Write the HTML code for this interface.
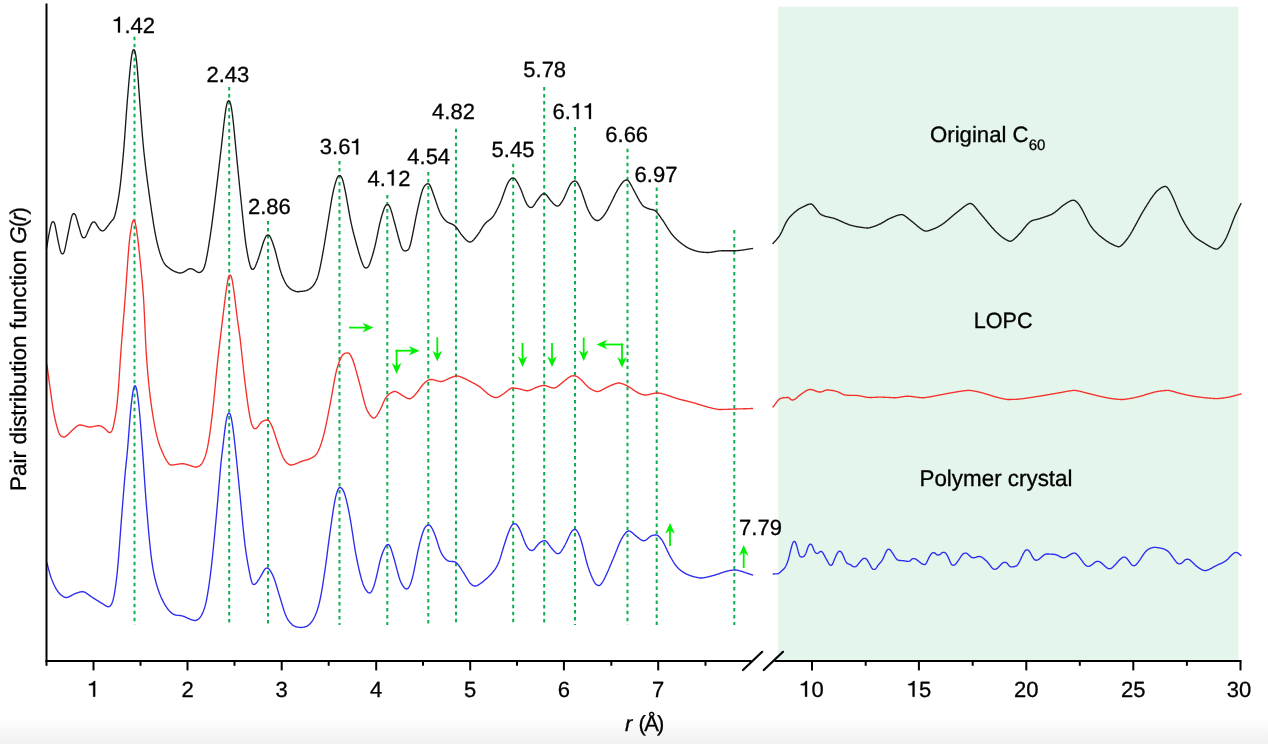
<!DOCTYPE html><html><head><meta charset="utf-8"><style>html,body{margin:0;padding:0;background:#fff}body{width:1268px;height:744px;position:relative;overflow:hidden;font-family:"Liberation Sans",sans-serif}</style></head><body><svg width="1268" height="744" viewBox="0 0 1268 744" style="position:absolute;left:0;top:0;font-family:'Liberation Sans',sans-serif;will-change:transform">
<defs><linearGradient id="bg" x1="0" y1="0" x2="0" y2="1"><stop offset="0" stop-color="#ffffff"/><stop offset="1" stop-color="#f1f1f1"/></linearGradient></defs>
<rect x="0" y="717" width="1268" height="27" fill="url(#bg)"/>
<rect x="778.2" y="6.7" width="460.2" height="653.1" fill="#e4f6ec"/>
<g stroke="#10ad50" stroke-width="2.00" stroke-dasharray="3.6 3.4" fill="none">
<line x1="134.5" y1="36.7" x2="134.5" y2="625.0"/>
<line x1="229.2" y1="87.0" x2="229.2" y2="625.0"/>
<line x1="268.0" y1="221.0" x2="268.0" y2="625.0"/>
<line x1="339.5" y1="161.0" x2="339.5" y2="625.0"/>
<line x1="387.3" y1="195.0" x2="387.3" y2="625.0"/>
<line x1="428.3" y1="172.0" x2="428.3" y2="625.0"/>
<line x1="456.0" y1="128.7" x2="456.0" y2="625.0"/>
<line x1="513.2" y1="163.7" x2="513.2" y2="625.0"/>
<line x1="544.2" y1="87.0" x2="544.2" y2="625.0"/>
<line x1="575.0" y1="127.0" x2="575.0" y2="625.0"/>
<line x1="627.5" y1="148.7" x2="627.5" y2="625.0"/>
<line x1="656.7" y1="187.5" x2="656.7" y2="625.0"/>
<line x1="734.3" y1="230.0" x2="734.3" y2="625.0"/>
</g>
<path d="M46.5 248.7L47.0 245.8L47.5 242.8L48.0 239.8L48.5 236.9L49.0 234.2L49.5 231.6L50.0 229.1L50.5 226.9L51.0 224.9L51.5 223.4L52.0 222.4L52.5 221.8L53.0 221.7L53.5 221.8L54.0 222.3L54.5 223.3L55.0 225.0L55.5 227.3L56.0 229.9L56.5 232.7L57.0 235.4L57.5 237.9L58.0 240.4L58.5 242.8L59.0 245.1L59.5 247.4L60.0 249.4L60.5 251.2L61.0 252.5L61.5 253.4L62.0 253.8L62.5 253.9L63.0 253.8L63.5 253.3L64.0 252.3L64.5 250.9L65.0 248.9L65.5 246.7L66.0 244.2L66.5 241.6L67.0 239.0L67.5 236.5L68.0 234.0L68.5 231.6L69.0 229.1L69.5 226.5L70.0 224.0L70.5 221.6L71.0 219.3L71.5 217.3L72.0 215.7L72.5 214.6L73.0 213.9L73.5 213.7L74.0 213.7L74.5 213.9L75.0 214.4L75.5 215.3L76.0 216.6L76.5 218.1L77.0 219.8L77.5 221.6L78.0 223.5L78.5 225.3L79.0 227.0L79.5 228.7L80.0 230.4L80.5 232.2L81.0 233.8L81.5 235.2L82.0 236.4L82.5 237.2L83.0 237.6L83.5 237.7L84.0 237.7L84.5 237.6L85.0 237.2L85.5 236.7L86.0 235.8L86.5 234.8L87.0 233.7L87.5 232.5L88.0 231.3L88.5 230.1L89.0 229.0L89.5 227.9L90.0 226.8L90.5 225.7L91.0 224.6L91.5 223.7L92.0 222.9L92.5 222.4L93.0 222.1L93.5 222.0L94.0 222.0L94.5 222.1L95.0 222.4L95.5 222.9L96.0 223.6L96.5 224.4L97.0 225.3L97.5 226.2L98.0 227.0L98.5 227.7L99.0 228.4L99.5 229.0L100.0 229.6L100.5 230.0L101.0 230.4L101.5 230.6L102.0 230.8L102.5 230.8L103.0 230.8L103.5 230.6L104.0 230.4L104.5 230.0L105.0 229.5L105.5 228.9L106.0 228.3L106.5 227.7L107.0 227.0L107.5 226.4L108.0 225.7L108.5 225.1L109.0 224.4L109.5 223.7L110.0 223.0L110.5 222.4L111.0 221.7L111.5 221.2L112.0 220.6L112.5 220.1L113.0 219.6L113.5 218.8L114.0 217.9L114.5 216.6L115.0 215.0L115.5 213.0L116.0 210.9L116.5 208.5L117.0 206.0L117.5 203.4L118.0 200.7L118.5 197.8L119.0 194.7L119.5 191.2L120.0 187.3L120.5 183.1L121.0 178.5L121.5 173.7L122.0 168.7L122.5 163.4L123.0 157.9L123.5 152.2L124.0 146.1L124.5 139.6L125.0 132.7L125.5 125.6L126.0 118.6L126.5 111.7L127.0 105.1L127.5 98.8L128.0 92.7L128.5 86.8L129.0 81.0L129.5 75.4L130.0 70.2L130.5 65.2L131.0 60.8L131.5 56.9L132.0 53.8L132.5 51.5L133.0 50.2L133.5 49.6L134.0 49.7L134.5 50.3L135.0 51.7L135.5 53.9L136.0 56.9L136.5 60.7L137.0 65.5L137.5 71.1L138.0 77.4L138.5 84.3L139.0 91.3L139.5 98.2L140.0 104.9L140.5 111.5L141.0 118.0L141.5 124.4L142.0 130.7L142.5 136.8L143.0 142.5L143.5 147.8L144.0 152.7L144.5 157.3L145.0 161.7L145.5 166.0L146.0 170.1L146.5 174.1L147.0 178.0L147.5 181.8L148.0 185.5L148.5 189.2L149.0 192.8L149.5 196.4L150.0 200.0L150.5 203.5L151.0 207.0L151.5 210.5L152.0 213.9L152.5 217.2L153.0 220.4L153.5 223.6L154.0 226.6L154.5 229.5L155.0 232.3L155.5 234.9L156.0 237.4L156.5 239.8L157.0 242.0L157.5 244.2L158.0 246.2L158.5 248.1L159.0 249.9L159.5 251.6L160.0 253.3L160.5 254.8L161.0 256.2L161.5 257.6L162.0 258.8L162.5 259.9L163.0 261.0L163.5 262.0L164.0 262.8L164.5 263.6L165.0 264.3L165.5 264.9L166.0 265.4L166.5 265.9L167.0 266.4L167.5 266.8L168.0 267.2L168.5 267.6L169.0 267.9L169.5 268.3L170.0 268.7L170.5 269.1L171.0 269.4L171.5 269.8L172.0 270.1L172.5 270.4L173.0 270.7L173.5 270.9L174.0 271.2L174.5 271.4L175.0 271.6L175.5 271.8L176.0 272.0L176.5 272.2L177.0 272.4L177.5 272.5L178.0 272.7L178.5 272.8L179.0 272.9L179.5 273.0L180.0 273.0L180.5 273.0L181.0 272.9L181.5 272.8L182.0 272.7L182.5 272.5L183.0 272.3L183.5 272.1L184.0 271.8L184.5 271.5L185.0 271.3L185.5 271.0L186.0 270.7L186.5 270.4L187.0 270.0L187.5 269.7L188.0 269.4L188.5 269.1L189.0 268.9L189.5 268.8L190.0 268.7L190.5 268.7L191.0 268.7L191.5 268.8L192.0 268.9L192.5 269.1L193.0 269.3L193.5 269.6L194.0 269.9L194.5 270.2L195.0 270.5L195.5 270.8L196.0 271.2L196.5 271.5L197.0 271.8L197.5 272.1L198.0 272.3L198.5 272.4L199.0 272.5L199.5 272.5L200.0 272.4L200.5 272.3L201.0 271.9L201.5 271.5L202.0 271.1L202.5 270.5L203.0 269.9L203.5 269.0L204.0 267.9L204.5 266.5L205.0 264.8L205.5 262.9L206.0 260.6L206.5 258.2L207.0 255.6L207.5 252.9L208.0 250.0L208.5 247.0L209.0 243.9L209.5 240.7L210.0 237.5L210.5 234.1L211.0 230.7L211.5 227.1L212.0 223.4L212.5 219.6L213.0 215.8L213.5 211.9L214.0 207.9L214.5 204.0L215.0 200.0L215.5 196.0L216.0 191.9L216.5 187.8L217.0 183.7L217.5 179.6L218.0 175.4L218.5 171.2L219.0 167.0L219.5 162.7L220.0 158.5L220.5 154.2L221.0 150.0L221.5 145.6L222.0 141.1L222.5 136.6L223.0 132.0L223.5 127.5L224.0 123.2L224.5 119.0L225.0 115.2L225.5 111.6L226.0 108.4L226.5 105.7L227.0 103.5L227.5 102.0L228.0 101.1L228.5 100.7L229.0 100.8L229.5 101.2L230.0 102.1L230.5 103.6L231.0 105.7L231.5 108.4L232.0 111.5L232.5 115.3L233.0 119.5L233.5 124.1L234.0 129.1L234.5 134.3L235.0 139.6L235.5 144.8L236.0 150.0L236.5 155.0L237.0 160.1L237.5 165.2L238.0 170.2L238.5 175.3L239.0 180.3L239.5 185.3L240.0 190.3L240.5 195.2L241.0 200.0L241.5 204.8L242.0 209.7L242.5 214.6L243.0 219.4L243.5 224.1L244.0 228.8L244.5 233.2L245.0 237.4L245.5 241.3L246.0 244.9L246.5 248.2L247.0 251.2L247.5 254.0L248.0 256.7L248.5 259.1L249.0 261.3L249.5 263.2L250.0 265.0L250.5 266.6L251.0 267.9L251.5 268.8L252.0 269.3L252.5 269.4L253.0 269.4L253.5 269.1L254.0 268.6L254.5 267.9L255.0 267.0L255.5 266.0L256.0 264.8L256.5 263.6L257.0 262.2L257.5 260.9L258.0 259.5L258.5 258.1L259.0 256.6L259.5 255.1L260.0 253.5L260.5 251.8L261.0 250.1L261.5 248.4L262.0 246.7L262.5 245.1L263.0 243.5L263.5 242.0L264.0 240.7L264.5 239.4L265.0 238.2L265.5 237.2L266.0 236.4L266.5 235.7L267.0 235.3L267.5 235.1L268.0 235.0L268.5 235.1L269.0 235.3L269.5 235.8L270.0 236.5L270.5 237.4L271.0 238.5L271.5 239.7L272.0 241.0L272.5 242.3L273.0 243.7L273.5 245.2L274.0 246.7L274.5 248.3L275.0 250.0L275.5 251.8L276.0 253.7L276.5 255.7L277.0 257.7L277.5 259.7L278.0 261.7L278.5 263.7L279.0 265.6L279.5 267.5L280.0 269.3L280.5 270.9L281.0 272.4L281.5 273.9L282.0 275.2L282.5 276.5L283.0 277.7L283.5 278.9L284.0 280.0L284.5 281.0L285.0 282.0L285.5 282.9L286.0 283.8L286.5 284.6L287.0 285.3L287.5 286.0L288.0 286.6L288.5 287.1L289.0 287.6L289.5 288.1L290.0 288.5L290.5 288.9L291.0 289.2L291.5 289.5L292.0 289.8L292.5 290.1L293.0 290.3L293.5 290.5L294.0 290.7L294.5 290.9L295.0 291.1L295.5 291.3L296.0 291.5L296.5 291.6L297.0 291.7L297.5 291.7L298.0 291.7L298.5 291.7L299.0 291.6L299.5 291.5L300.0 291.5L300.5 291.4L301.0 291.4L301.5 291.3L302.0 291.3L302.5 291.2L303.0 291.2L303.5 291.1L304.0 291.1L304.5 291.0L305.0 290.9L305.5 290.8L306.0 290.7L306.5 290.5L307.0 290.3L307.5 290.1L308.0 289.9L308.5 289.7L309.0 289.4L309.5 289.0L310.0 288.7L310.5 288.3L311.0 287.9L311.5 287.4L312.0 287.0L312.5 286.4L313.0 285.9L313.5 285.2L314.0 284.5L314.5 283.8L315.0 282.9L315.5 282.0L316.0 281.0L316.5 279.9L317.0 278.7L317.5 277.4L318.0 275.9L318.5 274.2L319.0 272.2L319.5 270.1L320.0 267.8L320.5 265.4L321.0 262.8L321.5 260.3L322.0 257.6L322.5 255.0L323.0 252.2L323.5 249.4L324.0 246.5L324.5 243.5L325.0 240.5L325.5 237.4L326.0 234.2L326.5 231.1L327.0 228.1L327.5 225.0L328.0 221.9L328.5 218.9L329.0 215.7L329.5 212.6L330.0 209.5L330.5 206.4L331.0 203.4L331.5 200.5L332.0 197.7L332.5 195.1L333.0 192.6L333.5 190.3L334.0 188.2L334.5 186.3L335.0 184.4L335.5 182.7L336.0 181.1L336.5 179.6L337.0 178.3L337.5 177.3L338.0 176.4L338.5 175.9L339.0 175.6L339.5 175.6L340.0 175.6L340.5 175.9L341.0 176.4L341.5 177.2L342.0 178.2L342.5 179.5L343.0 181.1L343.5 183.0L344.0 185.2L344.5 187.5L345.0 189.9L345.5 192.4L346.0 195.0L346.5 197.7L347.0 200.5L347.5 203.3L348.0 206.2L348.5 209.1L349.0 211.9L349.5 214.7L350.0 217.4L350.5 220.0L351.0 222.4L351.5 224.7L352.0 226.9L352.5 229.0L353.0 231.1L353.5 233.0L354.0 235.0L354.5 236.8L355.0 238.7L355.5 240.5L356.0 242.4L356.5 244.2L357.0 246.0L357.5 247.8L358.0 249.6L358.5 251.4L359.0 253.1L359.5 254.8L360.0 256.4L360.5 258.0L361.0 259.5L361.5 261.0L362.0 262.3L362.5 263.6L363.0 264.8L363.5 265.8L364.0 266.6L364.5 267.3L365.0 267.7L365.5 267.9L366.0 268.0L366.5 267.9L367.0 267.7L367.5 267.4L368.0 266.9L368.5 266.2L369.0 265.3L369.5 264.2L370.0 262.9L370.5 261.5L371.0 260.0L371.5 258.5L372.0 256.9L372.5 255.2L373.0 253.5L373.5 251.7L374.0 249.9L374.5 248.0L375.0 245.9L375.5 243.8L376.0 241.6L376.5 239.2L377.0 236.8L377.5 234.3L378.0 231.8L378.5 229.4L379.0 227.0L379.5 224.7L380.0 222.6L380.5 220.6L381.0 218.6L381.5 216.8L382.0 215.1L382.5 213.5L383.0 211.9L383.5 210.5L384.0 209.1L384.5 207.8L385.0 206.8L385.5 205.9L386.0 205.3L386.5 204.8L387.0 204.6L387.5 204.5L388.0 204.6L388.5 204.9L389.0 205.5L389.5 206.3L390.0 207.4L390.5 208.6L391.0 210.1L391.5 211.6L392.0 213.3L392.5 215.1L393.0 216.9L393.5 218.8L394.0 220.7L394.5 222.5L395.0 224.3L395.5 226.2L396.0 228.1L396.5 230.0L397.0 231.8L397.5 233.7L398.0 235.6L398.5 237.5L399.0 239.3L399.5 241.0L400.0 242.7L400.5 244.4L401.0 245.9L401.5 247.2L402.0 248.3L402.5 249.2L403.0 249.9L403.5 250.4L404.0 250.7L404.5 250.9L405.0 251.0L405.5 250.9L406.0 250.8L406.5 250.6L407.0 250.4L407.5 250.1L408.0 249.8L408.5 249.3L409.0 248.5L409.5 247.3L410.0 245.8L410.5 244.0L411.0 241.9L411.5 239.8L412.0 237.4L412.5 235.0L413.0 232.6L413.5 230.0L414.0 227.5L414.5 224.9L415.0 222.3L415.5 219.7L416.0 217.2L416.5 214.7L417.0 212.3L417.5 210.0L418.0 207.8L418.5 205.5L419.0 203.3L419.5 201.1L420.0 199.0L420.5 197.0L421.0 195.1L421.5 193.3L422.0 191.6L422.5 190.1L423.0 188.8L423.5 187.7L424.0 186.8L424.5 186.1L425.0 185.5L425.5 185.0L426.0 184.5L426.5 184.2L427.0 183.9L427.5 183.8L428.0 183.7L428.5 183.8L429.0 184.1L429.5 184.6L430.0 185.4L430.5 186.4L431.0 187.5L431.5 188.8L432.0 190.2L432.5 191.6L433.0 193.0L433.5 194.4L434.0 195.8L434.5 197.2L435.0 198.7L435.5 200.1L436.0 201.6L436.5 203.1L437.0 204.6L437.5 206.1L438.0 207.5L438.5 208.8L439.0 210.1L439.5 211.3L440.0 212.5L440.5 213.5L441.0 214.4L441.5 215.3L442.0 216.2L442.5 216.9L443.0 217.6L443.5 218.3L444.0 218.9L444.5 219.5L445.0 220.0L445.5 220.5L446.0 221.0L446.5 221.4L447.0 221.8L447.5 222.1L448.0 222.4L448.5 222.6L449.0 222.9L449.5 223.1L450.0 223.3L450.5 223.5L451.0 223.7L451.5 223.9L452.0 224.1L452.5 224.3L453.0 224.6L453.5 224.9L454.0 225.2L454.5 225.6L455.0 226.0L455.5 226.5L456.0 227.1L456.5 227.7L457.0 228.3L457.5 229.0L458.0 229.7L458.5 230.4L459.0 231.1L459.5 231.9L460.0 232.6L460.5 233.3L461.0 234.1L461.5 234.7L462.0 235.4L462.5 236.0L463.0 236.6L463.5 237.1L464.0 237.7L464.5 238.3L465.0 238.8L465.5 239.3L466.0 239.8L466.5 240.2L467.0 240.7L467.5 241.0L468.0 241.4L468.5 241.7L469.0 241.9L469.5 242.0L470.0 242.0L470.5 241.9L471.0 241.8L471.5 241.6L472.0 241.3L472.5 240.9L473.0 240.4L473.5 239.9L474.0 239.4L474.5 238.8L475.0 238.2L475.5 237.6L476.0 237.0L476.5 236.3L477.0 235.7L477.5 235.0L478.0 234.3L478.5 233.6L479.0 232.8L479.5 232.1L480.0 231.3L480.5 230.4L481.0 229.6L481.5 228.8L482.0 228.0L482.5 227.2L483.0 226.5L483.5 225.7L484.0 225.0L484.5 224.3L485.0 223.7L485.5 223.2L486.0 222.6L486.5 222.2L487.0 221.8L487.5 221.4L488.0 221.0L488.5 220.6L489.0 220.3L489.5 219.9L490.0 219.5L490.5 219.1L491.0 218.7L491.5 218.2L492.0 217.7L492.5 217.1L493.0 216.5L493.5 215.8L494.0 215.0L494.5 214.3L495.0 213.5L495.5 212.6L496.0 211.7L496.5 210.8L497.0 209.8L497.5 208.8L498.0 207.8L498.5 206.8L499.0 205.7L499.5 204.6L500.0 203.5L500.5 202.3L501.0 201.1L501.5 199.8L502.0 198.4L502.5 197.0L503.0 195.6L503.5 194.2L504.0 192.8L504.5 191.4L505.0 190.0L505.5 188.6L506.0 187.3L506.5 186.1L507.0 184.9L507.5 183.8L508.0 182.7L508.5 181.8L509.0 181.0L509.5 180.4L510.0 179.8L510.5 179.2L511.0 178.8L511.5 178.4L512.0 178.2L512.5 178.1L513.0 178.0L513.5 178.1L514.0 178.3L514.5 178.6L515.0 179.1L515.5 179.6L516.0 180.3L516.5 181.0L517.0 181.8L517.5 182.7L518.0 183.6L518.5 184.5L519.0 185.5L519.5 186.5L520.0 187.5L520.5 188.6L521.0 189.8L521.5 191.0L522.0 192.3L522.5 193.7L523.0 195.0L523.5 196.4L524.0 197.7L524.5 199.0L525.0 200.2L525.5 201.4L526.0 202.4L526.5 203.4L527.0 204.3L527.5 205.0L528.0 205.7L528.5 206.2L529.0 206.7L529.5 207.1L530.0 207.3L530.5 207.4L531.0 207.5L531.5 207.4L532.0 207.3L532.5 207.0L533.0 206.5L533.5 206.0L534.0 205.3L534.5 204.6L535.0 203.8L535.5 203.0L536.0 202.2L536.5 201.4L537.0 200.7L537.5 200.0L538.0 199.3L538.5 198.7L539.0 198.0L539.5 197.3L540.0 196.7L540.5 196.0L541.0 195.5L541.5 194.9L542.0 194.5L542.5 194.1L543.0 193.9L543.5 193.8L544.0 193.7L544.5 193.8L545.0 193.9L545.5 194.2L546.0 194.6L546.5 195.1L547.0 195.6L547.5 196.3L548.0 197.0L548.5 197.7L549.0 198.4L549.5 199.1L550.0 199.8L550.5 200.4L551.0 201.0L551.5 201.6L552.0 202.1L552.5 202.6L553.0 203.2L553.5 203.7L554.0 204.2L554.5 204.6L555.0 205.0L555.5 205.4L556.0 205.7L556.5 205.9L557.0 206.0L557.5 206.0L558.0 205.9L558.5 205.8L559.0 205.5L559.5 205.1L560.0 204.5L560.5 203.9L561.0 203.2L561.5 202.5L562.0 201.7L562.5 200.8L563.0 200.0L563.5 199.1L564.0 198.1L564.5 197.1L565.0 196.0L565.5 194.9L566.0 193.8L566.5 192.6L567.0 191.4L567.5 190.3L568.0 189.1L568.5 188.0L569.0 187.0L569.5 186.0L570.0 185.1L570.5 184.2L571.0 183.5L571.5 182.9L572.0 182.4L572.5 182.0L573.0 181.6L573.5 181.3L574.0 181.1L574.5 181.0L575.0 181.0L575.5 181.1L576.0 181.3L576.5 181.7L577.0 182.2L577.5 182.9L578.0 183.7L578.5 184.6L579.0 185.5L579.5 186.6L580.0 187.7L580.5 188.8L581.0 190.0L581.5 191.3L582.0 192.6L582.5 194.1L583.0 195.5L583.5 197.0L584.0 198.5L584.5 200.0L585.0 201.6L585.5 203.0L586.0 204.5L586.5 205.9L587.0 207.2L587.5 208.5L588.0 209.6L588.5 210.7L589.0 211.7L589.5 212.7L590.0 213.6L590.5 214.5L591.0 215.3L591.5 216.0L592.0 216.8L592.5 217.5L593.0 218.1L593.5 218.6L594.0 219.1L594.5 219.5L595.0 219.8L595.5 220.0L596.0 220.2L596.5 220.4L597.0 220.5L597.5 220.5L598.0 220.5L598.5 220.3L599.0 220.1L599.5 219.8L600.0 219.5L600.5 219.1L601.0 218.7L601.5 218.2L602.0 217.7L602.5 217.2L603.0 216.6L603.5 216.0L604.0 215.3L604.5 214.7L605.0 214.0L605.5 213.2L606.0 212.4L606.5 211.6L607.0 210.7L607.5 209.8L608.0 208.9L608.5 207.9L609.0 206.9L609.5 205.9L610.0 205.0L610.5 204.0L611.0 203.0L611.5 202.0L612.0 201.0L612.5 200.0L613.0 199.0L613.5 197.9L614.0 196.9L614.5 195.9L615.0 194.8L615.5 193.8L616.0 192.8L616.5 191.9L617.0 190.9L617.5 190.0L618.0 189.1L618.5 188.3L619.0 187.5L619.5 186.7L620.0 185.9L620.5 185.2L621.0 184.5L621.5 183.8L622.0 183.2L622.5 182.5L623.0 181.9L623.5 181.4L624.0 181.0L624.5 180.6L625.0 180.4L625.5 180.2L626.0 180.1L626.5 180.0L627.0 180.0L627.5 180.2L628.0 180.4L628.5 180.9L629.0 181.5L629.5 182.3L630.0 183.1L630.5 184.0L631.0 184.9L631.5 185.8L632.0 186.8L632.5 187.8L633.0 188.7L633.5 189.7L634.0 190.6L634.5 191.5L635.0 192.5L635.5 193.4L636.0 194.3L636.5 195.3L637.0 196.2L637.5 197.1L638.0 198.1L638.5 199.0L639.0 199.9L639.5 200.8L640.0 201.6L640.5 202.4L641.0 203.2L641.5 203.9L642.0 204.6L642.5 205.2L643.0 205.7L643.5 206.2L644.0 206.6L644.5 206.9L645.0 207.2L645.5 207.5L646.0 207.7L646.5 207.9L647.0 208.1L647.5 208.3L648.0 208.5L648.5 208.7L649.0 208.9L649.5 209.0L650.0 209.2L650.5 209.3L651.0 209.4L651.5 209.5L652.0 209.5L652.5 209.6L653.0 209.8L653.5 209.9L654.0 210.1L654.5 210.4L655.0 210.7L655.5 211.0L656.0 211.5L656.5 211.9L657.0 212.5L657.5 213.1L658.0 213.7L658.5 214.3L659.0 215.0L659.5 215.7L660.0 216.4L660.5 217.1L661.0 217.8L661.5 218.6L662.0 219.3L662.5 220.0L663.0 220.7L663.5 221.5L664.0 222.2L664.5 223.0L665.0 223.8L665.5 224.6L666.0 225.4L666.5 226.2L667.0 227.0L667.5 227.8L668.0 228.6L668.5 229.4L669.0 230.2L669.5 230.9L670.0 231.7L670.5 232.4L671.0 233.1L671.5 233.8L672.0 234.4L672.5 235.0L673.0 235.6L673.5 236.1L674.0 236.7L674.5 237.2L675.0 237.7L675.5 238.2L676.0 238.7L676.5 239.2L677.0 239.7L677.5 240.1L678.0 240.6L678.5 241.0L679.0 241.5L679.5 241.9L680.0 242.3L680.5 242.7L681.0 243.1L681.5 243.5L682.0 243.9L682.5 244.2L683.0 244.6L683.5 245.0L684.0 245.3L684.5 245.7L685.0 246.0L685.5 246.3L686.0 246.6L686.5 247.0L687.0 247.3L687.5 247.5L688.0 247.8L688.5 248.1L689.0 248.3L689.5 248.6L690.0 248.8L690.5 249.0L691.0 249.2L691.5 249.4L692.0 249.6L692.5 249.8L693.0 250.0L693.5 250.2L694.0 250.4L694.5 250.5L695.0 250.7L695.5 250.8L696.0 251.0L696.5 251.1L697.0 251.3L697.5 251.4L698.0 251.5L698.5 251.6L699.0 251.7L699.5 251.8L700.0 251.9L700.5 251.9L701.0 252.0L701.5 252.1L702.0 252.1L702.5 252.2L703.0 252.2L703.5 252.2L704.0 252.3L704.5 252.3L705.0 252.4L705.5 252.4L706.0 252.4L706.5 252.5L707.0 252.5L707.5 252.5L708.0 252.5L708.5 252.5L709.0 252.4L709.5 252.4L710.0 252.4L710.5 252.3L711.0 252.2L711.5 252.2L712.0 252.1L712.5 252.0L713.0 251.9L713.5 251.8L714.0 251.7L714.5 251.7L715.0 251.6L715.5 251.5L716.0 251.4L716.5 251.3L717.0 251.2L717.5 251.1L718.0 251.1L718.5 251.0L719.0 250.9L719.5 250.9L720.0 250.8L720.5 250.8L721.0 250.8L721.5 250.7L722.0 250.7L722.5 250.7L723.0 250.7L723.5 250.7L724.0 250.7L724.5 250.7L725.0 250.7L725.5 250.7L726.0 250.7L726.5 250.7L727.0 250.7L727.5 250.7L728.0 250.7L728.5 250.7L729.0 250.7L729.5 250.7L730.0 250.7L730.5 250.7L731.0 250.7L731.5 250.7L732.0 250.7L732.5 250.7L733.0 250.7L733.5 250.7L734.0 250.7L734.5 250.7L735.0 250.7L735.5 250.7L736.0 250.7L736.5 250.7L737.0 250.6L737.5 250.6L738.0 250.6L738.5 250.5L739.0 250.5L739.5 250.4L740.0 250.4L740.5 250.3L741.0 250.3L741.5 250.2L742.0 250.1L742.5 250.1L743.0 250.0L743.5 249.9L744.0 249.8L744.5 249.8L745.0 249.7L745.5 249.6L746.0 249.5L746.5 249.4L747.0 249.3L747.5 249.3L748.0 249.2L748.5 249.1L749.0 249.0L749.5 248.9L750.0 248.9L750.5 248.8L751.0 248.7L751.5 248.6L752.0 248.6L752.5 248.5" fill="none" stroke="#1a1a1a" stroke-width="1.35" stroke-linejoin="round" stroke-linecap="round"/>
<path d="M773.0 243.5L773.5 242.9L774.0 242.3L774.5 241.8L775.0 241.2L775.5 240.7L776.0 240.2L776.5 239.6L777.0 239.0L777.5 238.4L778.0 237.8L778.5 237.2L779.0 236.5L779.5 235.8L780.0 235.0L780.5 234.1L781.0 233.2L781.5 232.2L782.0 231.2L782.5 230.1L783.0 229.0L783.5 227.9L784.0 226.8L784.5 225.7L785.0 224.6L785.5 223.6L786.0 222.6L786.5 221.7L787.0 220.8L787.5 220.0L788.0 219.3L788.5 218.6L789.0 218.0L789.5 217.4L790.0 216.8L790.5 216.3L791.0 215.7L791.5 215.2L792.0 214.7L792.5 214.2L793.0 213.8L793.5 213.3L794.0 212.9L794.5 212.4L795.0 212.0L795.5 211.6L796.0 211.2L796.5 210.8L797.0 210.4L797.5 210.0L798.0 209.6L798.5 209.3L799.0 208.9L799.5 208.6L800.0 208.4L800.5 208.1L801.0 207.9L801.5 207.6L802.0 207.4L802.5 207.2L803.0 206.9L803.5 206.7L804.0 206.5L804.5 206.2L805.0 206.0L805.5 205.7L806.0 205.5L806.5 205.2L807.0 205.0L807.5 204.7L808.0 204.5L808.5 204.3L809.0 204.2L809.5 204.1L810.0 204.0L810.5 204.0L811.0 204.0L811.5 204.1L812.0 204.4L812.5 204.7L813.0 205.2L813.5 205.7L814.0 206.3L814.5 206.9L815.0 207.5L815.5 208.1L816.0 208.7L816.5 209.4L817.0 210.1L817.5 210.7L818.0 211.4L818.5 212.1L819.0 212.7L819.5 213.2L820.0 213.7L820.5 214.1L821.0 214.5L821.5 214.8L822.0 215.0L822.5 215.2L823.0 215.5L823.5 215.7L824.0 215.8L824.5 216.0L825.0 216.2L825.5 216.3L826.0 216.5L826.5 216.6L827.0 216.7L827.5 216.8L828.0 216.9L828.5 217.1L829.0 217.2L829.5 217.3L830.0 217.4L830.5 217.5L831.0 217.6L831.5 217.7L832.0 217.8L832.5 217.9L833.0 218.1L833.5 218.2L834.0 218.4L834.5 218.5L835.0 218.7L835.5 218.9L836.0 219.1L836.5 219.3L837.0 219.5L837.5 219.7L838.0 219.9L838.5 220.1L839.0 220.4L839.5 220.6L840.0 220.8L840.5 221.0L841.0 221.3L841.5 221.5L842.0 221.7L842.5 222.0L843.0 222.2L843.5 222.4L844.0 222.7L844.5 222.9L845.0 223.1L845.5 223.3L846.0 223.5L846.5 223.7L847.0 223.9L847.5 224.1L848.0 224.3L848.5 224.5L849.0 224.7L849.5 224.8L850.0 225.0L850.5 225.1L851.0 225.3L851.5 225.4L852.0 225.6L852.5 225.7L853.0 225.8L853.5 225.9L854.0 226.0L854.5 226.2L855.0 226.3L855.5 226.4L856.0 226.5L856.5 226.6L857.0 226.7L857.5 226.7L858.0 226.8L858.5 226.9L859.0 227.0L859.5 227.1L860.0 227.2L860.5 227.2L861.0 227.3L861.5 227.4L862.0 227.4L862.5 227.5L863.0 227.6L863.5 227.6L864.0 227.7L864.5 227.8L865.0 227.8L865.5 227.9L866.0 227.9L866.5 228.0L867.0 228.0L867.5 228.0L868.0 228.0L868.5 227.9L869.0 227.9L869.5 227.8L870.0 227.6L870.5 227.5L871.0 227.4L871.5 227.2L872.0 227.1L872.5 226.9L873.0 226.8L873.5 226.6L874.0 226.4L874.5 226.3L875.0 226.1L875.5 225.9L876.0 225.7L876.5 225.5L877.0 225.3L877.5 225.1L878.0 224.9L878.5 224.7L879.0 224.4L879.5 224.2L880.0 224.0L880.5 223.8L881.0 223.5L881.5 223.2L882.0 223.0L882.5 222.7L883.0 222.4L883.5 222.1L884.0 221.8L884.5 221.5L885.0 221.2L885.5 220.9L886.0 220.5L886.5 220.2L887.0 220.0L887.5 219.7L888.0 219.4L888.5 219.1L889.0 218.9L889.5 218.7L890.0 218.4L890.5 218.2L891.0 218.0L891.5 217.8L892.0 217.5L892.5 217.3L893.0 217.1L893.5 216.9L894.0 216.7L894.5 216.5L895.0 216.3L895.5 216.1L896.0 215.9L896.5 215.7L897.0 215.6L897.5 215.4L898.0 215.2L898.5 215.1L899.0 215.0L899.5 214.8L900.0 214.7L900.5 214.7L901.0 214.6L901.5 214.6L902.0 214.6L902.5 214.7L903.0 214.9L903.5 215.1L904.0 215.4L904.5 215.7L905.0 216.0L905.5 216.4L906.0 216.7L906.5 217.1L907.0 217.5L907.5 217.9L908.0 218.3L908.5 218.7L909.0 219.1L909.5 219.5L910.0 219.9L910.5 220.3L911.0 220.7L911.5 221.1L912.0 221.5L912.5 221.9L913.0 222.3L913.5 222.7L914.0 223.1L914.5 223.5L915.0 224.0L915.5 224.4L916.0 224.8L916.5 225.2L917.0 225.7L917.5 226.1L918.0 226.5L918.5 226.9L919.0 227.3L919.5 227.7L920.0 228.1L920.5 228.4L921.0 228.8L921.5 229.1L922.0 229.5L922.5 229.8L923.0 230.1L923.5 230.4L924.0 230.6L924.5 230.8L925.0 231.0L925.5 231.1L926.0 231.1L926.5 231.1L927.0 231.0L927.5 230.9L928.0 230.8L928.5 230.6L929.0 230.5L929.5 230.3L930.0 230.2L930.5 230.0L931.0 229.9L931.5 229.7L932.0 229.5L932.5 229.3L933.0 229.1L933.5 228.9L934.0 228.7L934.5 228.5L935.0 228.3L935.5 228.1L936.0 227.8L936.5 227.6L937.0 227.4L937.5 227.1L938.0 226.8L938.5 226.6L939.0 226.3L939.5 226.0L940.0 225.7L940.5 225.4L941.0 225.1L941.5 224.8L942.0 224.5L942.5 224.1L943.0 223.8L943.5 223.4L944.0 223.1L944.5 222.7L945.0 222.3L945.5 221.9L946.0 221.5L946.5 221.1L947.0 220.7L947.5 220.3L948.0 219.8L948.5 219.4L949.0 219.0L949.5 218.6L950.0 218.1L950.5 217.7L951.0 217.3L951.5 216.8L952.0 216.4L952.5 216.0L953.0 215.6L953.5 215.1L954.0 214.7L954.5 214.3L955.0 213.9L955.5 213.5L956.0 213.1L956.5 212.7L957.0 212.3L957.5 211.9L958.0 211.5L958.5 211.1L959.0 210.7L959.5 210.3L960.0 209.9L960.5 209.5L961.0 209.1L961.5 208.7L962.0 208.3L962.5 207.9L963.0 207.5L963.5 207.1L964.0 206.7L964.5 206.3L965.0 206.0L965.5 205.6L966.0 205.3L966.5 205.0L967.0 204.7L967.5 204.4L968.0 204.1L968.5 203.9L969.0 203.7L969.5 203.6L970.0 203.5L970.5 203.5L971.0 203.6L971.5 203.8L972.0 204.1L972.5 204.4L973.0 204.8L973.5 205.3L974.0 205.8L974.5 206.3L975.0 206.9L975.5 207.5L976.0 208.1L976.5 208.7L977.0 209.3L977.5 210.0L978.0 210.6L978.5 211.2L979.0 211.9L979.5 212.5L980.0 213.1L980.5 213.7L981.0 214.3L981.5 214.9L982.0 215.5L982.5 216.0L983.0 216.6L983.5 217.2L984.0 217.8L984.5 218.4L985.0 219.1L985.5 219.7L986.0 220.3L986.5 220.9L987.0 221.5L987.5 222.1L988.0 222.7L988.5 223.3L989.0 223.9L989.5 224.5L990.0 225.1L990.5 225.7L991.0 226.3L991.5 226.9L992.0 227.4L992.5 228.0L993.0 228.6L993.5 229.1L994.0 229.6L994.5 230.2L995.0 230.7L995.5 231.2L996.0 231.7L996.5 232.2L997.0 232.7L997.5 233.1L998.0 233.6L998.5 234.0L999.0 234.5L999.5 234.9L1000.0 235.4L1000.5 235.8L1001.0 236.2L1001.5 236.6L1002.0 237.0L1002.5 237.3L1003.0 237.7L1003.5 238.1L1004.0 238.4L1004.5 238.7L1005.0 239.0L1005.5 239.4L1006.0 239.7L1006.5 239.9L1007.0 240.2L1007.5 240.5L1008.0 240.7L1008.5 240.9L1009.0 241.1L1009.5 241.2L1010.0 241.2L1010.5 241.2L1011.0 241.1L1011.5 240.9L1012.0 240.6L1012.5 240.3L1013.0 240.0L1013.5 239.6L1014.0 239.2L1014.5 238.7L1015.0 238.3L1015.5 237.8L1016.0 237.4L1016.5 236.9L1017.0 236.4L1017.5 235.9L1018.0 235.3L1018.5 234.8L1019.0 234.3L1019.5 233.8L1020.0 233.2L1020.5 232.7L1021.0 232.1L1021.5 231.5L1022.0 230.9L1022.5 230.3L1023.0 229.7L1023.5 229.0L1024.0 228.4L1024.5 227.8L1025.0 227.2L1025.5 226.6L1026.0 226.0L1026.5 225.4L1027.0 224.8L1027.5 224.3L1028.0 223.7L1028.5 223.2L1029.0 222.8L1029.5 222.3L1030.0 221.9L1030.5 221.6L1031.0 221.2L1031.5 221.0L1032.0 220.7L1032.5 220.5L1033.0 220.3L1033.5 220.2L1034.0 220.0L1034.5 219.9L1035.0 219.8L1035.5 219.7L1036.0 219.6L1036.5 219.5L1037.0 219.4L1037.5 219.2L1038.0 219.1L1038.5 219.0L1039.0 218.8L1039.5 218.6L1040.0 218.5L1040.5 218.3L1041.0 218.1L1041.5 218.0L1042.0 217.8L1042.5 217.6L1043.0 217.5L1043.5 217.3L1044.0 217.2L1044.5 217.0L1045.0 216.8L1045.5 216.7L1046.0 216.5L1046.5 216.4L1047.0 216.2L1047.5 216.0L1048.0 215.8L1048.5 215.6L1049.0 215.4L1049.5 215.2L1050.0 215.0L1050.5 214.8L1051.0 214.6L1051.5 214.3L1052.0 214.1L1052.5 213.8L1053.0 213.5L1053.5 213.2L1054.0 212.9L1054.5 212.6L1055.0 212.2L1055.5 211.8L1056.0 211.4L1056.5 211.0L1057.0 210.6L1057.5 210.2L1058.0 209.7L1058.5 209.3L1059.0 208.9L1059.5 208.4L1060.0 208.0L1060.5 207.6L1061.0 207.1L1061.5 206.7L1062.0 206.3L1062.5 205.9L1063.0 205.5L1063.5 205.2L1064.0 204.8L1064.5 204.5L1065.0 204.1L1065.5 203.8L1066.0 203.5L1066.5 203.2L1067.0 202.8L1067.5 202.5L1068.0 202.2L1068.5 201.9L1069.0 201.7L1069.5 201.4L1070.0 201.2L1070.5 200.9L1071.0 200.7L1071.5 200.5L1072.0 200.4L1072.5 200.3L1073.0 200.2L1073.5 200.2L1074.0 200.3L1074.5 200.4L1075.0 200.6L1075.5 201.0L1076.0 201.4L1076.5 201.8L1077.0 202.2L1077.5 202.8L1078.0 203.3L1078.5 203.9L1079.0 204.6L1079.5 205.3L1080.0 206.0L1080.5 206.8L1081.0 207.6L1081.5 208.5L1082.0 209.4L1082.5 210.3L1083.0 211.3L1083.5 212.3L1084.0 213.3L1084.5 214.3L1085.0 215.3L1085.5 216.3L1086.0 217.3L1086.5 218.3L1087.0 219.3L1087.5 220.3L1088.0 221.3L1088.5 222.2L1089.0 223.1L1089.5 224.0L1090.0 224.8L1090.5 225.6L1091.0 226.3L1091.5 227.0L1092.0 227.7L1092.5 228.4L1093.0 229.0L1093.5 229.6L1094.0 230.2L1094.5 230.7L1095.0 231.3L1095.5 231.8L1096.0 232.3L1096.5 232.8L1097.0 233.3L1097.5 233.8L1098.0 234.3L1098.5 234.7L1099.0 235.2L1099.5 235.6L1100.0 236.0L1100.5 236.4L1101.0 236.8L1101.5 237.2L1102.0 237.6L1102.5 238.0L1103.0 238.4L1103.5 238.8L1104.0 239.2L1104.5 239.5L1105.0 239.9L1105.5 240.2L1106.0 240.6L1106.5 240.9L1107.0 241.3L1107.5 241.6L1108.0 241.9L1108.5 242.2L1109.0 242.6L1109.5 242.9L1110.0 243.1L1110.5 243.4L1111.0 243.7L1111.5 244.0L1112.0 244.2L1112.5 244.5L1113.0 244.7L1113.5 245.0L1114.0 245.2L1114.5 245.4L1115.0 245.7L1115.5 245.9L1116.0 246.1L1116.5 246.2L1117.0 246.4L1117.5 246.6L1118.0 246.7L1118.5 246.7L1119.0 246.7L1119.5 246.6L1120.0 246.4L1120.5 246.1L1121.0 245.7L1121.5 245.3L1122.0 244.9L1122.5 244.4L1123.0 243.9L1123.5 243.4L1124.0 242.9L1124.5 242.3L1125.0 241.7L1125.5 241.1L1126.0 240.5L1126.5 239.8L1127.0 239.2L1127.5 238.5L1128.0 237.8L1128.5 237.0L1129.0 236.3L1129.5 235.5L1130.0 234.8L1130.5 234.0L1131.0 233.1L1131.5 232.3L1132.0 231.5L1132.5 230.6L1133.0 229.7L1133.5 228.8L1134.0 227.9L1134.5 227.0L1135.0 226.1L1135.5 225.2L1136.0 224.2L1136.5 223.3L1137.0 222.4L1137.5 221.4L1138.0 220.5L1138.5 219.6L1139.0 218.6L1139.5 217.7L1140.0 216.8L1140.5 215.9L1141.0 215.0L1141.5 214.1L1142.0 213.2L1142.5 212.4L1143.0 211.5L1143.5 210.7L1144.0 209.9L1144.5 209.1L1145.0 208.2L1145.5 207.4L1146.0 206.6L1146.5 205.8L1147.0 205.0L1147.5 204.2L1148.0 203.4L1148.5 202.6L1149.0 201.8L1149.5 201.0L1150.0 200.2L1150.5 199.5L1151.0 198.7L1151.5 198.0L1152.0 197.3L1152.5 196.6L1153.0 195.9L1153.5 195.2L1154.0 194.6L1154.5 193.9L1155.0 193.3L1155.5 192.7L1156.0 192.1L1156.5 191.6L1157.0 191.1L1157.5 190.6L1158.0 190.2L1158.5 189.7L1159.0 189.3L1159.5 189.0L1160.0 188.6L1160.5 188.3L1161.0 188.0L1161.5 187.7L1162.0 187.5L1162.5 187.2L1163.0 187.0L1163.5 186.7L1164.0 186.6L1164.5 186.5L1165.0 186.4L1165.5 186.4L1166.0 186.6L1166.5 186.8L1167.0 187.3L1167.5 187.8L1168.0 188.4L1168.5 189.1L1169.0 189.9L1169.5 190.7L1170.0 191.6L1170.5 192.5L1171.0 193.5L1171.5 194.5L1172.0 195.5L1172.5 196.5L1173.0 197.6L1173.5 198.8L1174.0 199.9L1174.5 201.1L1175.0 202.3L1175.5 203.5L1176.0 204.8L1176.5 206.0L1177.0 207.3L1177.5 208.5L1178.0 209.7L1178.5 210.9L1179.0 212.1L1179.5 213.3L1180.0 214.4L1180.5 215.5L1181.0 216.5L1181.5 217.5L1182.0 218.4L1182.5 219.4L1183.0 220.3L1183.5 221.2L1184.0 222.1L1184.5 223.0L1185.0 223.9L1185.5 224.7L1186.0 225.5L1186.5 226.3L1187.0 227.1L1187.5 227.9L1188.0 228.7L1188.5 229.4L1189.0 230.1L1189.5 230.8L1190.0 231.5L1190.5 232.2L1191.0 232.8L1191.5 233.4L1192.0 234.0L1192.5 234.5L1193.0 235.1L1193.5 235.6L1194.0 236.1L1194.5 236.5L1195.0 237.0L1195.5 237.4L1196.0 237.8L1196.5 238.2L1197.0 238.6L1197.5 238.9L1198.0 239.3L1198.5 239.6L1199.0 239.9L1199.5 240.3L1200.0 240.6L1200.5 240.9L1201.0 241.2L1201.5 241.5L1202.0 241.8L1202.5 242.1L1203.0 242.4L1203.5 242.7L1204.0 243.0L1204.5 243.4L1205.0 243.7L1205.5 244.0L1206.0 244.3L1206.5 244.6L1207.0 244.9L1207.5 245.2L1208.0 245.5L1208.5 245.8L1209.0 246.1L1209.5 246.4L1210.0 246.7L1210.5 246.9L1211.0 247.2L1211.5 247.4L1212.0 247.7L1212.5 247.9L1213.0 248.1L1213.5 248.3L1214.0 248.5L1214.5 248.7L1215.0 248.9L1215.5 249.0L1216.0 249.1L1216.5 249.1L1217.0 249.1L1217.5 248.9L1218.0 248.7L1218.5 248.3L1219.0 247.9L1219.5 247.5L1220.0 247.0L1220.5 246.5L1221.0 245.9L1221.5 245.4L1222.0 244.7L1222.5 244.1L1223.0 243.4L1223.5 242.6L1224.0 241.9L1224.5 241.0L1225.0 240.2L1225.5 239.2L1226.0 238.3L1226.5 237.2L1227.0 236.2L1227.5 235.0L1228.0 233.8L1228.5 232.6L1229.0 231.3L1229.5 230.1L1230.0 228.7L1230.5 227.4L1231.0 226.1L1231.5 224.7L1232.0 223.4L1232.5 222.1L1233.0 220.8L1233.5 219.5L1234.0 218.2L1234.5 217.0L1235.0 215.8L1235.5 214.7L1236.0 213.6L1236.5 212.5L1237.0 211.5L1237.5 210.5L1238.0 209.5L1238.5 208.5L1239.0 207.5L1239.5 206.5L1240.0 205.5L1240.5 204.5L1241.0 203.5" fill="none" stroke="#1a1a1a" stroke-width="1.35" stroke-linejoin="round" stroke-linecap="round"/>
<path d="M47.0 365.0L47.5 368.8L48.0 372.6L48.5 376.4L49.0 380.1L49.5 383.9L50.0 387.5L50.5 391.1L51.0 394.7L51.5 398.3L52.0 401.9L52.5 405.2L53.0 408.4L53.5 411.3L54.0 414.0L54.5 416.4L55.0 418.8L55.5 421.0L56.0 423.1L56.5 425.1L57.0 427.0L57.5 428.7L58.0 430.3L58.5 431.8L59.0 433.1L59.5 434.2L60.0 435.0L60.5 435.5L61.0 436.0L61.5 436.3L62.0 436.5L62.5 436.8L63.0 436.9L63.5 437.0L64.0 437.0L64.5 436.9L65.0 436.7L65.5 436.5L66.0 436.2L66.5 435.8L67.0 435.4L67.5 434.9L68.0 434.5L68.5 434.0L69.0 433.5L69.5 433.0L70.0 432.4L70.5 431.9L71.0 431.4L71.5 430.9L72.0 430.5L72.5 430.0L73.0 429.6L73.5 429.1L74.0 428.7L74.5 428.2L75.0 427.8L75.5 427.3L76.0 426.9L76.5 426.5L77.0 426.2L77.5 425.8L78.0 425.5L78.5 425.3L79.0 425.1L79.5 425.0L80.0 425.0L80.5 425.0L81.0 425.0L81.5 425.1L82.0 425.2L82.5 425.3L83.0 425.4L83.5 425.5L84.0 425.7L84.5 425.8L85.0 426.0L85.5 426.2L86.0 426.3L86.5 426.5L87.0 426.6L87.5 426.7L88.0 426.8L88.5 426.9L89.0 427.0L89.5 427.0L90.0 427.0L90.5 427.0L91.0 427.0L91.5 426.9L92.0 426.9L92.5 426.8L93.0 426.7L93.5 426.6L94.0 426.4L94.5 426.3L95.0 426.2L95.5 426.1L96.0 426.0L96.5 425.9L97.0 425.8L97.5 425.7L98.0 425.7L98.5 425.7L99.0 425.7L99.5 425.8L100.0 425.9L100.5 426.0L101.0 426.2L101.5 426.4L102.0 426.7L102.5 427.0L103.0 427.3L103.5 427.6L104.0 428.0L104.5 428.3L105.0 428.7L105.5 429.2L106.0 429.7L106.5 430.2L107.0 430.8L107.5 431.3L108.0 431.8L108.5 432.1L109.0 432.4L109.5 432.5L110.0 432.5L110.5 432.4L111.0 432.0L111.5 431.4L112.0 430.5L112.5 429.3L113.0 427.8L113.5 425.8L114.0 423.4L114.5 420.9L115.0 418.3L115.5 415.4L116.0 412.2L116.5 408.6L117.0 404.4L117.5 399.5L118.0 393.8L118.5 387.2L119.0 380.0L119.5 372.4L120.0 364.7L120.5 357.3L121.0 350.2L121.5 343.6L122.0 337.2L122.5 331.0L123.0 324.9L123.5 318.8L124.0 312.6L124.5 306.3L125.0 299.8L125.5 293.1L126.0 286.1L126.5 278.9L127.0 271.6L127.5 264.5L128.0 257.7L128.5 251.3L129.0 245.4L129.5 240.4L130.0 236.2L130.5 232.7L131.0 229.6L131.5 226.6L132.0 224.0L132.5 222.0L133.0 220.7L133.5 220.1L134.0 220.1L134.5 220.7L135.0 222.1L135.5 224.1L136.0 226.7L136.5 229.7L137.0 233.1L137.5 236.7L138.0 240.7L138.5 245.1L139.0 249.7L139.5 254.4L140.0 259.1L140.5 263.8L141.0 268.7L141.5 273.8L142.0 279.2L142.5 284.9L143.0 291.0L143.5 297.9L144.0 306.3L144.5 316.7L145.0 328.2L145.5 339.4L146.0 349.0L146.5 356.9L147.0 363.7L147.5 369.9L148.0 375.7L148.5 381.0L149.0 386.0L149.5 390.6L150.0 394.9L150.5 398.9L151.0 402.8L151.5 406.4L152.0 409.9L152.5 413.2L153.0 416.4L153.5 419.4L154.0 422.3L154.5 425.0L155.0 427.6L155.5 430.1L156.0 432.4L156.5 434.6L157.0 436.7L157.5 438.6L158.0 440.4L158.5 442.0L159.0 443.5L159.5 445.0L160.0 446.4L160.5 447.7L161.0 448.9L161.5 450.1L162.0 451.3L162.5 452.5L163.0 453.6L163.5 454.7L164.0 455.8L164.5 456.8L165.0 457.8L165.5 458.8L166.0 459.6L166.5 460.5L167.0 461.3L167.5 462.0L168.0 462.7L168.5 463.3L169.0 463.9L169.5 464.4L170.0 464.7L170.5 464.9L171.0 465.0L171.5 465.0L172.0 465.0L172.5 465.0L173.0 464.9L173.5 464.9L174.0 464.8L174.5 464.7L175.0 464.6L175.5 464.6L176.0 464.5L176.5 464.4L177.0 464.3L177.5 464.2L178.0 464.1L178.5 464.1L179.0 464.0L179.5 463.9L180.0 463.8L180.5 463.8L181.0 463.7L181.5 463.7L182.0 463.7L182.5 463.7L183.0 463.7L183.5 463.7L184.0 463.8L184.5 463.9L185.0 464.0L185.5 464.1L186.0 464.3L186.5 464.4L187.0 464.6L187.5 464.7L188.0 464.9L188.5 465.0L189.0 465.2L189.5 465.3L190.0 465.5L190.5 465.7L191.0 465.8L191.5 466.0L192.0 466.2L192.5 466.4L193.0 466.5L193.5 466.7L194.0 466.8L194.5 466.9L195.0 467.0L195.5 467.0L196.0 467.0L196.5 467.0L197.0 466.9L197.5 466.7L198.0 466.5L198.5 466.3L199.0 466.1L199.5 465.8L200.0 465.5L200.5 465.1L201.0 464.6L201.5 464.0L202.0 463.3L202.5 462.5L203.0 461.5L203.5 460.5L204.0 459.4L204.5 458.2L205.0 456.9L205.5 455.4L206.0 453.7L206.5 451.8L207.0 449.7L207.5 447.4L208.0 444.8L208.5 441.9L209.0 438.8L209.5 435.6L210.0 432.1L210.5 428.5L211.0 424.7L211.5 420.7L212.0 416.6L212.5 412.4L213.0 407.9L213.5 403.2L214.0 398.3L214.5 393.2L215.0 388.0L215.5 382.7L216.0 377.5L216.5 372.3L217.0 367.4L217.5 362.6L218.0 358.0L218.5 353.5L219.0 349.2L219.5 344.9L220.0 340.7L220.5 336.5L221.0 332.4L221.5 328.2L222.0 324.1L222.5 320.0L223.0 315.8L223.5 311.7L224.0 307.6L224.5 303.5L225.0 299.5L225.5 295.7L226.0 292.0L226.5 288.5L227.0 285.1L227.5 281.9L228.0 279.2L228.5 277.2L229.0 275.9L229.5 275.3L230.0 275.1L230.5 275.3L231.0 275.9L231.5 277.2L232.0 279.2L232.5 281.9L233.0 285.1L233.5 288.5L234.0 292.1L234.5 295.8L235.0 299.7L235.5 303.7L236.0 307.9L236.5 312.0L237.0 316.0L237.5 319.9L238.0 323.5L238.5 326.9L239.0 330.3L239.5 333.8L240.0 337.7L240.5 341.9L241.0 346.3L241.5 350.9L242.0 355.5L242.5 360.2L243.0 364.9L243.5 369.5L244.0 374.0L244.5 378.3L245.0 382.4L245.5 386.4L246.0 390.4L246.5 394.2L247.0 398.0L247.5 401.6L248.0 405.1L248.5 408.5L249.0 411.7L249.5 414.6L250.0 417.3L250.5 419.7L251.0 421.8L251.5 423.5L252.0 424.9L252.5 426.0L253.0 427.0L253.5 427.7L254.0 428.3L254.5 428.6L255.0 428.7L255.5 428.6L256.0 428.5L256.5 428.2L257.0 427.8L257.5 427.2L258.0 426.6L258.5 425.9L259.0 425.1L259.5 424.4L260.0 423.7L260.5 423.1L261.0 422.5L261.5 422.1L262.0 421.7L262.5 421.4L263.0 421.1L263.5 420.9L264.0 420.7L264.5 420.5L265.0 420.3L265.5 420.2L266.0 420.1L266.5 420.0L267.0 420.0L267.5 420.1L268.0 420.3L268.5 420.6L269.0 421.1L269.5 421.7L270.0 422.5L270.5 423.3L271.0 424.2L271.5 425.3L272.0 426.4L272.5 427.5L273.0 428.8L273.5 430.2L274.0 431.7L274.5 433.2L275.0 434.8L275.5 436.4L276.0 438.0L276.5 439.5L277.0 441.0L277.5 442.5L278.0 443.9L278.5 445.3L279.0 446.8L279.5 448.2L280.0 449.6L280.5 451.0L281.0 452.4L281.5 453.7L282.0 455.0L282.5 456.2L283.0 457.3L283.5 458.3L284.0 459.2L284.5 460.0L285.0 460.7L285.5 461.4L286.0 462.0L286.5 462.5L287.0 462.9L287.5 463.4L288.0 463.7L288.5 464.1L289.0 464.4L289.5 464.6L290.0 464.8L290.5 465.0L291.0 465.0L291.5 465.0L292.0 464.9L292.5 464.9L293.0 464.7L293.5 464.6L294.0 464.4L294.5 464.3L295.0 464.1L295.5 463.9L296.0 463.7L296.5 463.5L297.0 463.3L297.5 463.1L298.0 462.9L298.5 462.6L299.0 462.4L299.5 462.2L300.0 462.0L300.5 461.8L301.0 461.6L301.5 461.4L302.0 461.2L302.5 461.0L303.0 460.8L303.5 460.7L304.0 460.6L304.5 460.4L305.0 460.3L305.5 460.2L306.0 460.1L306.5 460.0L307.0 459.9L307.5 459.7L308.0 459.6L308.5 459.4L309.0 459.2L309.5 459.0L310.0 458.7L310.5 458.4L311.0 458.2L311.5 457.9L312.0 457.7L312.5 457.4L313.0 457.1L313.5 456.8L314.0 456.5L314.5 456.1L315.0 455.7L315.5 455.2L316.0 454.6L316.5 454.0L317.0 453.3L317.5 452.5L318.0 451.5L318.5 450.5L319.0 449.4L319.5 448.2L320.0 447.0L320.5 445.6L321.0 444.1L321.5 442.6L322.0 441.0L322.5 439.3L323.0 437.6L323.5 435.7L324.0 433.8L324.5 431.8L325.0 429.6L325.5 427.4L326.0 425.1L326.5 422.7L327.0 420.2L327.5 417.8L328.0 415.2L328.5 412.7L329.0 410.1L329.5 407.6L330.0 405.0L330.5 402.3L331.0 399.6L331.5 396.8L332.0 394.0L332.5 391.1L333.0 388.2L333.5 385.3L334.0 382.6L334.5 379.9L335.0 377.3L335.5 374.8L336.0 372.6L336.5 370.5L337.0 368.6L337.5 366.9L338.0 365.2L338.5 363.8L339.0 362.4L339.5 361.1L340.0 359.8L340.5 358.7L341.0 357.6L341.5 356.6L342.0 355.8L342.5 355.1L343.0 354.6L343.5 354.2L344.0 353.8L344.5 353.5L345.0 353.3L345.5 353.2L346.0 353.1L346.5 353.1L347.0 353.0L347.5 353.0L348.0 353.0L348.5 353.1L349.0 353.3L349.5 353.8L350.0 354.4L350.5 355.1L351.0 356.0L351.5 357.0L352.0 358.1L352.5 359.2L353.0 360.5L353.5 362.0L354.0 363.5L354.5 365.2L355.0 366.9L355.5 368.6L356.0 370.4L356.5 372.1L357.0 374.0L357.5 375.8L358.0 377.6L358.5 379.5L359.0 381.3L359.5 383.2L360.0 385.0L360.5 386.9L361.0 388.9L361.5 390.9L362.0 392.9L362.5 395.0L363.0 397.0L363.5 399.0L364.0 400.9L364.5 402.7L365.0 404.4L365.5 406.0L366.0 407.4L366.5 408.7L367.0 409.9L367.5 411.0L368.0 411.9L368.5 412.8L369.0 413.7L369.5 414.4L370.0 415.1L370.5 415.7L371.0 416.3L371.5 416.8L372.0 417.3L372.5 417.6L373.0 417.9L373.5 418.0L374.0 418.0L374.5 417.8L375.0 417.6L375.5 417.2L376.0 416.6L376.5 416.0L377.0 415.3L377.5 414.5L378.0 413.6L378.5 412.8L379.0 411.8L379.5 410.9L380.0 410.0L380.5 409.0L381.0 408.0L381.5 406.9L382.0 405.7L382.5 404.6L383.0 403.4L383.5 402.3L384.0 401.2L384.5 400.2L385.0 399.2L385.5 398.3L386.0 397.5L386.5 396.9L387.0 396.2L387.5 395.7L388.0 395.2L388.5 394.7L389.0 394.2L389.5 393.8L390.0 393.5L390.5 393.1L391.0 392.8L391.5 392.5L392.0 392.3L392.5 392.0L393.0 391.8L393.5 391.6L394.0 391.5L394.5 391.5L395.0 391.5L395.5 391.6L396.0 391.7L396.5 391.9L397.0 392.1L397.5 392.4L398.0 392.6L398.5 392.9L399.0 393.3L399.5 393.6L400.0 393.9L400.5 394.2L401.0 394.6L401.5 394.9L402.0 395.2L402.5 395.5L403.0 395.8L403.5 396.1L404.0 396.4L404.5 396.7L405.0 397.0L405.5 397.3L406.0 397.6L406.5 397.9L407.0 398.1L407.5 398.3L408.0 398.5L408.5 398.6L409.0 398.7L409.5 398.7L410.0 398.7L410.5 398.6L411.0 398.4L411.5 398.1L412.0 397.7L412.5 397.3L413.0 396.9L413.5 396.4L414.0 395.9L414.5 395.4L415.0 394.8L415.5 394.3L416.0 393.7L416.5 393.1L417.0 392.5L417.5 391.8L418.0 391.2L418.5 390.5L419.0 389.8L419.5 389.1L420.0 388.4L420.5 387.7L421.0 387.0L421.5 386.3L422.0 385.7L422.5 385.1L423.0 384.5L423.5 383.9L424.0 383.4L424.5 382.9L425.0 382.5L425.5 382.1L426.0 381.7L426.5 381.3L427.0 381.0L427.5 380.7L428.0 380.4L428.5 380.2L429.0 379.9L429.5 379.7L430.0 379.6L430.5 379.5L431.0 379.5L431.5 379.5L432.0 379.5L432.5 379.6L433.0 379.7L433.5 379.8L434.0 379.9L434.5 380.0L435.0 380.2L435.5 380.3L436.0 380.5L436.5 380.7L437.0 380.8L437.5 381.0L438.0 381.1L438.5 381.2L439.0 381.3L439.5 381.4L440.0 381.5L440.5 381.5L441.0 381.5L441.5 381.5L442.0 381.4L442.5 381.3L443.0 381.2L443.5 381.0L444.0 380.8L444.5 380.6L445.0 380.4L445.5 380.2L446.0 379.9L446.5 379.7L447.0 379.4L447.5 379.2L448.0 378.9L448.5 378.7L449.0 378.4L449.5 378.2L450.0 378.0L450.5 377.8L451.0 377.6L451.5 377.4L452.0 377.2L452.5 377.0L453.0 376.8L453.5 376.7L454.0 376.5L454.5 376.4L455.0 376.2L455.5 376.1L456.0 376.1L456.5 376.0L457.0 376.0L457.5 376.0L458.0 376.1L458.5 376.2L459.0 376.3L459.5 376.4L460.0 376.6L460.5 376.8L461.0 377.0L461.5 377.2L462.0 377.4L462.5 377.6L463.0 377.8L463.5 378.0L464.0 378.3L464.5 378.5L465.0 378.7L465.5 379.0L466.0 379.2L466.5 379.5L467.0 379.7L467.5 380.0L468.0 380.3L468.5 380.5L469.0 380.8L469.5 381.0L470.0 381.3L470.5 381.5L471.0 381.8L471.5 382.0L472.0 382.3L472.5 382.6L473.0 382.8L473.5 383.1L474.0 383.4L474.5 383.6L475.0 383.9L475.5 384.2L476.0 384.5L476.5 384.8L477.0 385.1L477.5 385.4L478.0 385.7L478.5 386.0L479.0 386.3L479.5 386.7L480.0 387.0L480.5 387.4L481.0 387.7L481.5 388.2L482.0 388.6L482.5 389.0L483.0 389.5L483.5 389.9L484.0 390.4L484.5 390.9L485.0 391.3L485.5 391.8L486.0 392.3L486.5 392.7L487.0 393.1L487.5 393.6L488.0 394.0L488.5 394.3L489.0 394.7L489.5 395.0L490.0 395.3L490.5 395.6L491.0 395.9L491.5 396.2L492.0 396.4L492.5 396.6L493.0 396.8L493.5 397.0L494.0 397.2L494.5 397.3L495.0 397.4L495.5 397.5L496.0 397.5L496.5 397.5L497.0 397.4L497.5 397.3L498.0 397.1L498.5 396.9L499.0 396.7L499.5 396.4L500.0 396.1L500.5 395.8L501.0 395.5L501.5 395.2L502.0 394.8L502.5 394.5L503.0 394.2L503.5 393.8L504.0 393.5L504.5 393.1L505.0 392.7L505.5 392.3L506.0 391.9L506.5 391.5L507.0 391.1L507.5 390.6L508.0 390.2L508.5 389.8L509.0 389.5L509.5 389.1L510.0 388.8L510.5 388.5L511.0 388.3L511.5 388.1L512.0 388.0L512.5 388.0L513.0 388.0L513.5 388.0L514.0 388.1L514.5 388.1L515.0 388.2L515.5 388.2L516.0 388.3L516.5 388.4L517.0 388.4L517.5 388.5L518.0 388.6L518.5 388.7L519.0 388.8L519.5 388.9L520.0 389.0L520.5 389.1L521.0 389.3L521.5 389.4L522.0 389.5L522.5 389.7L523.0 389.8L523.5 390.0L524.0 390.1L524.5 390.3L525.0 390.4L525.5 390.5L526.0 390.6L526.5 390.7L527.0 390.7L527.5 390.7L528.0 390.7L528.5 390.6L529.0 390.5L529.5 390.4L530.0 390.2L530.5 390.0L531.0 389.8L531.5 389.6L532.0 389.4L532.5 389.1L533.0 388.9L533.5 388.6L534.0 388.4L534.5 388.1L535.0 387.9L535.5 387.7L536.0 387.5L536.5 387.3L537.0 387.1L537.5 386.9L538.0 386.8L538.5 386.6L539.0 386.4L539.5 386.3L540.0 386.1L540.5 386.0L541.0 385.9L541.5 385.7L542.0 385.6L542.5 385.6L543.0 385.5L543.5 385.5L544.0 385.5L544.5 385.5L545.0 385.6L545.5 385.7L546.0 385.8L546.5 385.9L547.0 386.1L547.5 386.3L548.0 386.5L548.5 386.7L549.0 386.9L549.5 387.1L550.0 387.3L550.5 387.4L551.0 387.6L551.5 387.7L552.0 387.9L552.5 387.9L553.0 388.0L553.5 388.0L554.0 388.0L554.5 387.9L555.0 387.8L555.5 387.6L556.0 387.4L556.5 387.1L557.0 386.8L557.5 386.4L558.0 386.1L558.5 385.7L559.0 385.3L559.5 384.9L560.0 384.5L560.5 384.1L561.0 383.7L561.5 383.3L562.0 382.9L562.5 382.5L563.0 382.1L563.5 381.7L564.0 381.3L564.5 380.8L565.0 380.4L565.5 380.0L566.0 379.6L566.5 379.2L567.0 378.8L567.5 378.4L568.0 378.0L568.5 377.7L569.0 377.3L569.5 377.0L570.0 376.7L570.5 376.5L571.0 376.2L571.5 376.1L572.0 375.9L572.5 375.8L573.0 375.7L573.5 375.7L574.0 375.7L574.5 375.8L575.0 375.9L575.5 376.0L576.0 376.2L576.5 376.4L577.0 376.7L577.5 376.9L578.0 377.2L578.5 377.6L579.0 377.9L579.5 378.3L580.0 378.7L580.5 379.2L581.0 379.6L581.5 380.1L582.0 380.6L582.5 381.2L583.0 381.7L583.5 382.2L584.0 382.8L584.5 383.3L585.0 383.9L585.5 384.4L586.0 385.0L586.5 385.5L587.0 386.0L587.5 386.5L588.0 386.9L588.5 387.3L589.0 387.7L589.5 388.1L590.0 388.4L590.5 388.8L591.0 389.1L591.5 389.4L592.0 389.7L592.5 389.9L593.0 390.2L593.5 390.4L594.0 390.6L594.5 390.8L595.0 391.0L595.5 391.2L596.0 391.3L596.5 391.4L597.0 391.5L597.5 391.5L598.0 391.5L598.5 391.4L599.0 391.3L599.5 391.2L600.0 391.0L600.5 390.7L601.0 390.5L601.5 390.3L602.0 390.0L602.5 389.7L603.0 389.5L603.5 389.2L604.0 388.9L604.5 388.6L605.0 388.3L605.5 388.0L606.0 387.8L606.5 387.5L607.0 387.2L607.5 387.0L608.0 386.8L608.5 386.5L609.0 386.3L609.5 386.1L610.0 385.9L610.5 385.6L611.0 385.4L611.5 385.2L612.0 385.0L612.5 384.8L613.0 384.5L613.5 384.3L614.0 384.2L614.5 384.0L615.0 383.8L615.5 383.6L616.0 383.5L616.5 383.3L617.0 383.2L617.5 383.1L618.0 383.0L618.5 383.0L619.0 383.0L619.5 383.0L620.0 383.1L620.5 383.2L621.0 383.3L621.5 383.5L622.0 383.6L622.5 383.8L623.0 384.0L623.5 384.1L624.0 384.3L624.5 384.6L625.0 384.8L625.5 385.0L626.0 385.2L626.5 385.5L627.0 385.7L627.5 386.0L628.0 386.3L628.5 386.6L629.0 386.9L629.5 387.2L630.0 387.5L630.5 387.9L631.0 388.2L631.5 388.5L632.0 388.9L632.5 389.2L633.0 389.6L633.5 389.9L634.0 390.3L634.5 390.6L635.0 391.0L635.5 391.3L636.0 391.6L636.5 391.9L637.0 392.2L637.5 392.5L638.0 392.8L638.5 393.0L639.0 393.3L639.5 393.5L640.0 393.7L640.5 393.9L641.0 394.1L641.5 394.3L642.0 394.5L642.5 394.6L643.0 394.7L643.5 394.9L644.0 394.9L644.5 395.0L645.0 395.0L645.5 395.0L646.0 395.0L646.5 394.9L647.0 394.9L647.5 394.8L648.0 394.7L648.5 394.6L649.0 394.5L649.5 394.4L650.0 394.3L650.5 394.2L651.0 394.1L651.5 393.9L652.0 393.8L652.5 393.7L653.0 393.6L653.5 393.5L654.0 393.4L654.5 393.3L655.0 393.2L655.5 393.1L656.0 393.1L656.5 393.0L657.0 393.0L657.5 393.0L658.0 393.0L658.5 393.0L659.0 393.1L659.5 393.2L660.0 393.2L660.5 393.3L661.0 393.4L661.5 393.5L662.0 393.7L662.5 393.8L663.0 393.9L663.5 394.1L664.0 394.2L664.5 394.4L665.0 394.5L665.5 394.7L666.0 394.8L666.5 395.0L667.0 395.1L667.5 395.3L668.0 395.5L668.5 395.6L669.0 395.8L669.5 396.0L670.0 396.2L670.5 396.4L671.0 396.5L671.5 396.7L672.0 396.9L672.5 397.1L673.0 397.2L673.5 397.4L674.0 397.6L674.5 397.8L675.0 397.9L675.5 398.1L676.0 398.2L676.5 398.4L677.0 398.5L677.5 398.7L678.0 398.8L678.5 399.0L679.0 399.1L679.5 399.3L680.0 399.4L680.5 399.5L681.0 399.6L681.5 399.8L682.0 399.9L682.5 400.0L683.0 400.1L683.5 400.3L684.0 400.4L684.5 400.5L685.0 400.6L685.5 400.7L686.0 400.9L686.5 401.0L687.0 401.1L687.5 401.2L688.0 401.3L688.5 401.5L689.0 401.6L689.5 401.7L690.0 401.8L690.5 402.0L691.0 402.1L691.5 402.2L692.0 402.4L692.5 402.5L693.0 402.6L693.5 402.8L694.0 402.9L694.5 403.1L695.0 403.2L695.5 403.4L696.0 403.5L696.5 403.7L697.0 403.8L697.5 404.0L698.0 404.1L698.5 404.3L699.0 404.5L699.5 404.6L700.0 404.8L700.5 404.9L701.0 405.1L701.5 405.2L702.0 405.4L702.5 405.5L703.0 405.7L703.5 405.9L704.0 406.0L704.5 406.2L705.0 406.3L705.5 406.4L706.0 406.6L706.5 406.7L707.0 406.9L707.5 407.0L708.0 407.1L708.5 407.3L709.0 407.4L709.5 407.5L710.0 407.7L710.5 407.8L711.0 407.9L711.5 408.0L712.0 408.2L712.5 408.3L713.0 408.4L713.5 408.5L714.0 408.6L714.5 408.7L715.0 408.8L715.5 408.9L716.0 409.0L716.5 409.1L717.0 409.2L717.5 409.3L718.0 409.4L718.5 409.4L719.0 409.5L719.5 409.5L720.0 409.5L720.5 409.5L721.0 409.5L721.5 409.5L722.0 409.5L722.5 409.5L723.0 409.4L723.5 409.4L724.0 409.4L724.5 409.4L725.0 409.4L725.5 409.4L726.0 409.3L726.5 409.3L727.0 409.3L727.5 409.3L728.0 409.3L728.5 409.2L729.0 409.2L729.5 409.2L730.0 409.2L730.5 409.2L731.0 409.1L731.5 409.1L732.0 409.1L732.5 409.1L733.0 409.1L733.5 409.1L734.0 409.0L734.5 409.0L735.0 409.0L735.5 409.0L736.0 409.0L736.5 409.0L737.0 408.9L737.5 408.9L738.0 408.9L738.5 408.9L739.0 408.9L739.5 408.9L740.0 408.8L740.5 408.8L741.0 408.8L741.5 408.8L742.0 408.8L742.5 408.8L743.0 408.8L743.5 408.7L744.0 408.7L744.5 408.7L745.0 408.7L745.5 408.7L746.0 408.7L746.5 408.7L747.0 408.7L747.5 408.6L748.0 408.6L748.5 408.6L749.0 408.6L749.5 408.6L750.0 408.6L750.5 408.6L751.0 408.5L751.5 408.5L752.0 408.5L752.5 408.5" fill="none" stroke="#f5302a" stroke-width="1.35" stroke-linejoin="round" stroke-linecap="round"/>
<path d="M773.0 407.0L773.5 406.4L774.0 405.7L774.5 405.1L775.0 404.4L775.5 403.7L776.0 403.0L776.5 402.3L777.0 401.7L777.5 401.0L778.0 400.5L778.5 399.9L779.0 399.5L779.5 399.1L780.0 398.7L780.5 398.5L781.0 398.3L781.5 398.1L782.0 398.0L782.5 397.9L783.0 397.8L783.5 397.7L784.0 397.7L784.5 397.7L785.0 397.6L785.5 397.6L786.0 397.6L786.5 397.5L787.0 397.5L787.5 397.5L788.0 397.5L788.5 397.6L789.0 397.8L789.5 398.2L790.0 398.7L790.5 399.3L791.0 399.7L791.5 399.9L792.0 400.0L792.5 400.0L793.0 400.0L793.5 399.9L794.0 399.7L794.5 399.5L795.0 399.1L795.5 398.8L796.0 398.4L796.5 398.0L797.0 397.5L797.5 397.1L798.0 396.6L798.5 396.2L799.0 395.8L799.5 395.4L800.0 395.0L800.5 394.7L801.0 394.3L801.5 393.9L802.0 393.6L802.5 393.2L803.0 392.9L803.5 392.5L804.0 392.2L804.5 391.9L805.0 391.5L805.5 391.2L806.0 390.9L806.5 390.6L807.0 390.4L807.5 390.1L808.0 389.9L808.5 389.7L809.0 389.6L809.5 389.5L810.0 389.5L810.5 389.5L811.0 389.5L811.5 389.6L812.0 389.7L812.5 389.8L813.0 390.0L813.5 390.2L814.0 390.4L814.5 390.5L815.0 390.7L815.5 391.0L816.0 391.1L816.5 391.3L817.0 391.5L817.5 391.7L818.0 391.8L818.5 391.9L819.0 392.0L819.5 392.0L820.0 392.0L820.5 392.0L821.0 391.9L821.5 391.9L822.0 391.7L822.5 391.6L823.0 391.4L823.5 391.1L824.0 390.9L824.5 390.6L825.0 390.4L825.5 390.3L826.0 390.1L826.5 390.1L827.0 390.0L827.5 390.0L828.0 390.0L828.5 390.0L829.0 390.1L829.5 390.1L830.0 390.2L830.5 390.2L831.0 390.3L831.5 390.4L832.0 390.5L832.5 390.5L833.0 390.6L833.5 390.7L834.0 390.8L834.5 390.9L835.0 391.0L835.5 391.2L836.0 391.3L836.5 391.4L837.0 391.6L837.5 391.7L838.0 391.9L838.5 392.1L839.0 392.3L839.5 392.6L840.0 392.8L840.5 393.1L841.0 393.4L841.5 393.7L842.0 393.9L842.5 394.2L843.0 394.4L843.5 394.6L844.0 394.8L844.5 394.9L845.0 395.0L845.5 395.1L846.0 395.1L846.5 395.1L847.0 395.2L847.5 395.2L848.0 395.2L848.5 395.2L849.0 395.3L849.5 395.3L850.0 395.3L850.5 395.3L851.0 395.3L851.5 395.3L852.0 395.3L852.5 395.3L853.0 395.3L853.5 395.3L854.0 395.3L854.5 395.3L855.0 395.3L855.5 395.4L856.0 395.4L856.5 395.4L857.0 395.5L857.5 395.5L858.0 395.6L858.5 395.6L859.0 395.7L859.5 395.8L860.0 395.9L860.5 396.0L861.0 396.1L861.5 396.2L862.0 396.3L862.5 396.4L863.0 396.5L863.5 396.6L864.0 396.7L864.5 396.8L865.0 396.9L865.5 397.0L866.0 397.1L866.5 397.2L867.0 397.2L867.5 397.3L868.0 397.4L868.5 397.4L869.0 397.5L869.5 397.5L870.0 397.5L870.5 397.5L871.0 397.5L871.5 397.5L872.0 397.5L872.5 397.4L873.0 397.4L873.5 397.4L874.0 397.4L874.5 397.3L875.0 397.3L875.5 397.3L876.0 397.2L876.5 397.2L877.0 397.2L877.5 397.2L878.0 397.1L878.5 397.1L879.0 397.1L879.5 397.1L880.0 397.1L880.5 397.1L881.0 397.1L881.5 397.1L882.0 397.1L882.5 397.1L883.0 397.2L883.5 397.2L884.0 397.2L884.5 397.2L885.0 397.3L885.5 397.3L886.0 397.3L886.5 397.3L887.0 397.4L887.5 397.4L888.0 397.4L888.5 397.4L889.0 397.5L889.5 397.5L890.0 397.5L890.5 397.6L891.0 397.6L891.5 397.6L892.0 397.6L892.5 397.6L893.0 397.7L893.5 397.7L894.0 397.7L894.5 397.7L895.0 397.7L895.5 397.7L896.0 397.7L896.5 397.7L897.0 397.6L897.5 397.6L898.0 397.5L898.5 397.4L899.0 397.4L899.5 397.3L900.0 397.2L900.5 397.1L901.0 397.0L901.5 396.9L902.0 396.8L902.5 396.7L903.0 396.7L903.5 396.6L904.0 396.5L904.5 396.4L905.0 396.4L905.5 396.3L906.0 396.3L906.5 396.2L907.0 396.2L907.5 396.2L908.0 396.2L908.5 396.2L909.0 396.2L909.5 396.3L910.0 396.3L910.5 396.4L911.0 396.4L911.5 396.5L912.0 396.5L912.5 396.6L913.0 396.7L913.5 396.7L914.0 396.8L914.5 396.9L915.0 396.9L915.5 397.0L916.0 397.1L916.5 397.1L917.0 397.2L917.5 397.3L918.0 397.3L918.5 397.4L919.0 397.5L919.5 397.5L920.0 397.6L920.5 397.6L921.0 397.6L921.5 397.7L922.0 397.7L922.5 397.7L923.0 397.7L923.5 397.7L924.0 397.7L924.5 397.6L925.0 397.6L925.5 397.5L926.0 397.4L926.5 397.4L927.0 397.3L927.5 397.2L928.0 397.1L928.5 397.1L929.0 397.0L929.5 396.9L930.0 396.8L930.5 396.7L931.0 396.6L931.5 396.5L932.0 396.5L932.5 396.4L933.0 396.3L933.5 396.2L934.0 396.1L934.5 396.0L935.0 395.9L935.5 395.8L936.0 395.7L936.5 395.6L937.0 395.5L937.5 395.4L938.0 395.3L938.5 395.2L939.0 395.1L939.5 395.0L940.0 394.9L940.5 394.8L941.0 394.7L941.5 394.6L942.0 394.6L942.5 394.5L943.0 394.4L943.5 394.3L944.0 394.2L944.5 394.1L945.0 394.0L945.5 393.9L946.0 393.8L946.5 393.7L947.0 393.6L947.5 393.5L948.0 393.4L948.5 393.3L949.0 393.2L949.5 393.1L950.0 393.1L950.5 393.0L951.0 392.9L951.5 392.8L952.0 392.7L952.5 392.6L953.0 392.5L953.5 392.4L954.0 392.3L954.5 392.2L955.0 392.2L955.5 392.1L956.0 392.0L956.5 391.9L957.0 391.8L957.5 391.7L958.0 391.7L958.5 391.6L959.0 391.5L959.5 391.4L960.0 391.3L960.5 391.3L961.0 391.2L961.5 391.1L962.0 391.0L962.5 391.0L963.0 390.9L963.5 390.8L964.0 390.8L964.5 390.7L965.0 390.7L965.5 390.6L966.0 390.6L966.5 390.5L967.0 390.5L967.5 390.4L968.0 390.4L968.5 390.4L969.0 390.4L969.5 390.4L970.0 390.5L970.5 390.5L971.0 390.6L971.5 390.6L972.0 390.7L972.5 390.8L973.0 390.8L973.5 390.9L974.0 391.0L974.5 391.1L975.0 391.2L975.5 391.3L976.0 391.4L976.5 391.5L977.0 391.6L977.5 391.7L978.0 391.8L978.5 391.9L979.0 392.0L979.5 392.1L980.0 392.3L980.5 392.4L981.0 392.5L981.5 392.6L982.0 392.8L982.5 392.9L983.0 393.0L983.5 393.2L984.0 393.3L984.5 393.5L985.0 393.6L985.5 393.8L986.0 393.9L986.5 394.1L987.0 394.3L987.5 394.4L988.0 394.6L988.5 394.7L989.0 394.9L989.5 395.0L990.0 395.2L990.5 395.4L991.0 395.5L991.5 395.7L992.0 395.8L992.5 396.0L993.0 396.2L993.5 396.3L994.0 396.5L994.5 396.6L995.0 396.7L995.5 396.9L996.0 397.0L996.5 397.2L997.0 397.3L997.5 397.4L998.0 397.5L998.5 397.7L999.0 397.8L999.5 397.9L1000.0 398.1L1000.5 398.2L1001.0 398.3L1001.5 398.4L1002.0 398.5L1002.5 398.6L1003.0 398.7L1003.5 398.8L1004.0 398.9L1004.5 399.0L1005.0 399.1L1005.5 399.2L1006.0 399.3L1006.5 399.4L1007.0 399.4L1007.5 399.5L1008.0 399.5L1008.5 399.5L1009.0 399.5L1009.5 399.5L1010.0 399.5L1010.5 399.5L1011.0 399.5L1011.5 399.4L1012.0 399.4L1012.5 399.4L1013.0 399.4L1013.5 399.4L1014.0 399.4L1014.5 399.3L1015.0 399.3L1015.5 399.3L1016.0 399.3L1016.5 399.2L1017.0 399.2L1017.5 399.2L1018.0 399.2L1018.5 399.1L1019.0 399.1L1019.5 399.0L1020.0 399.0L1020.5 398.9L1021.0 398.9L1021.5 398.8L1022.0 398.8L1022.5 398.7L1023.0 398.6L1023.5 398.6L1024.0 398.5L1024.5 398.4L1025.0 398.4L1025.5 398.3L1026.0 398.2L1026.5 398.2L1027.0 398.1L1027.5 398.0L1028.0 397.9L1028.5 397.9L1029.0 397.8L1029.5 397.7L1030.0 397.6L1030.5 397.6L1031.0 397.5L1031.5 397.4L1032.0 397.3L1032.5 397.3L1033.0 397.2L1033.5 397.1L1034.0 397.0L1034.5 396.9L1035.0 396.9L1035.5 396.8L1036.0 396.7L1036.5 396.6L1037.0 396.5L1037.5 396.5L1038.0 396.4L1038.5 396.3L1039.0 396.2L1039.5 396.1L1040.0 396.1L1040.5 396.0L1041.0 395.9L1041.5 395.8L1042.0 395.7L1042.5 395.7L1043.0 395.6L1043.5 395.5L1044.0 395.4L1044.5 395.3L1045.0 395.2L1045.5 395.2L1046.0 395.1L1046.5 395.0L1047.0 394.9L1047.5 394.8L1048.0 394.7L1048.5 394.6L1049.0 394.6L1049.5 394.5L1050.0 394.4L1050.5 394.3L1051.0 394.2L1051.5 394.1L1052.0 394.0L1052.5 394.0L1053.0 393.9L1053.5 393.8L1054.0 393.7L1054.5 393.6L1055.0 393.5L1055.5 393.4L1056.0 393.4L1056.5 393.3L1057.0 393.2L1057.5 393.1L1058.0 393.0L1058.5 392.9L1059.0 392.8L1059.5 392.7L1060.0 392.7L1060.5 392.6L1061.0 392.5L1061.5 392.4L1062.0 392.3L1062.5 392.2L1063.0 392.1L1063.5 392.0L1064.0 391.9L1064.5 391.8L1065.0 391.7L1065.5 391.6L1066.0 391.5L1066.5 391.4L1067.0 391.3L1067.5 391.2L1068.0 391.1L1068.5 391.1L1069.0 391.0L1069.5 390.9L1070.0 390.8L1070.5 390.8L1071.0 390.7L1071.5 390.6L1072.0 390.6L1072.5 390.5L1073.0 390.4L1073.5 390.4L1074.0 390.4L1074.5 390.4L1075.0 390.4L1075.5 390.5L1076.0 390.5L1076.5 390.6L1077.0 390.7L1077.5 390.8L1078.0 390.9L1078.5 391.0L1079.0 391.1L1079.5 391.2L1080.0 391.3L1080.5 391.4L1081.0 391.6L1081.5 391.7L1082.0 391.8L1082.5 391.9L1083.0 392.1L1083.5 392.2L1084.0 392.3L1084.5 392.5L1085.0 392.6L1085.5 392.7L1086.0 392.9L1086.5 393.0L1087.0 393.1L1087.5 393.3L1088.0 393.4L1088.5 393.5L1089.0 393.6L1089.5 393.7L1090.0 393.9L1090.5 394.0L1091.0 394.1L1091.5 394.2L1092.0 394.3L1092.5 394.5L1093.0 394.6L1093.5 394.7L1094.0 394.8L1094.5 395.0L1095.0 395.1L1095.5 395.2L1096.0 395.3L1096.5 395.5L1097.0 395.6L1097.5 395.7L1098.0 395.8L1098.5 396.0L1099.0 396.1L1099.5 396.2L1100.0 396.3L1100.5 396.4L1101.0 396.6L1101.5 396.7L1102.0 396.8L1102.5 396.9L1103.0 397.0L1103.5 397.1L1104.0 397.2L1104.5 397.3L1105.0 397.4L1105.5 397.5L1106.0 397.6L1106.5 397.7L1107.0 397.8L1107.5 397.9L1108.0 398.0L1108.5 398.1L1109.0 398.2L1109.5 398.2L1110.0 398.3L1110.5 398.4L1111.0 398.5L1111.5 398.5L1112.0 398.6L1112.5 398.7L1113.0 398.7L1113.5 398.8L1114.0 398.9L1114.5 398.9L1115.0 399.0L1115.5 399.0L1116.0 399.1L1116.5 399.1L1117.0 399.2L1117.5 399.2L1118.0 399.3L1118.5 399.3L1119.0 399.4L1119.5 399.4L1120.0 399.4L1120.5 399.5L1121.0 399.5L1121.5 399.5L1122.0 399.5L1122.5 399.5L1123.0 399.5L1123.5 399.4L1124.0 399.4L1124.5 399.3L1125.0 399.2L1125.5 399.2L1126.0 399.1L1126.5 399.0L1127.0 399.0L1127.5 398.9L1128.0 398.8L1128.5 398.8L1129.0 398.7L1129.5 398.6L1130.0 398.5L1130.5 398.4L1131.0 398.3L1131.5 398.2L1132.0 398.2L1132.5 398.1L1133.0 398.0L1133.5 397.9L1134.0 397.8L1134.5 397.7L1135.0 397.5L1135.5 397.4L1136.0 397.3L1136.5 397.2L1137.0 397.1L1137.5 397.0L1138.0 396.9L1138.5 396.7L1139.0 396.6L1139.5 396.5L1140.0 396.3L1140.5 396.2L1141.0 396.1L1141.5 395.9L1142.0 395.8L1142.5 395.6L1143.0 395.5L1143.5 395.3L1144.0 395.2L1144.5 395.0L1145.0 394.9L1145.5 394.7L1146.0 394.5L1146.5 394.4L1147.0 394.2L1147.5 394.1L1148.0 393.9L1148.5 393.8L1149.0 393.6L1149.5 393.5L1150.0 393.3L1150.5 393.2L1151.0 393.0L1151.5 392.9L1152.0 392.8L1152.5 392.6L1153.0 392.5L1153.5 392.4L1154.0 392.2L1154.5 392.1L1155.0 392.0L1155.5 391.9L1156.0 391.8L1156.5 391.7L1157.0 391.6L1157.5 391.5L1158.0 391.4L1158.5 391.3L1159.0 391.2L1159.5 391.1L1160.0 391.1L1160.5 391.0L1161.0 390.9L1161.5 390.9L1162.0 390.8L1162.5 390.8L1163.0 390.7L1163.5 390.7L1164.0 390.6L1164.5 390.6L1165.0 390.5L1165.5 390.5L1166.0 390.5L1166.5 390.4L1167.0 390.4L1167.5 390.4L1168.0 390.4L1168.5 390.4L1169.0 390.5L1169.5 390.6L1170.0 390.7L1170.5 390.8L1171.0 390.9L1171.5 391.0L1172.0 391.1L1172.5 391.3L1173.0 391.4L1173.5 391.6L1174.0 391.7L1174.5 391.9L1175.0 392.0L1175.5 392.2L1176.0 392.3L1176.5 392.5L1177.0 392.6L1177.5 392.8L1178.0 392.9L1178.5 393.0L1179.0 393.2L1179.5 393.3L1180.0 393.4L1180.5 393.5L1181.0 393.7L1181.5 393.8L1182.0 393.9L1182.5 394.0L1183.0 394.1L1183.5 394.2L1184.0 394.3L1184.5 394.4L1185.0 394.6L1185.5 394.7L1186.0 394.8L1186.5 394.9L1187.0 395.0L1187.5 395.1L1188.0 395.2L1188.5 395.3L1189.0 395.4L1189.5 395.5L1190.0 395.6L1190.5 395.7L1191.0 395.8L1191.5 395.9L1192.0 396.0L1192.5 396.1L1193.0 396.2L1193.5 396.2L1194.0 396.3L1194.5 396.4L1195.0 396.5L1195.5 396.5L1196.0 396.6L1196.5 396.7L1197.0 396.8L1197.5 396.8L1198.0 396.9L1198.5 397.0L1199.0 397.0L1199.5 397.1L1200.0 397.1L1200.5 397.2L1201.0 397.3L1201.5 397.3L1202.0 397.4L1202.5 397.4L1203.0 397.5L1203.5 397.6L1204.0 397.6L1204.5 397.7L1205.0 397.7L1205.5 397.8L1206.0 397.8L1206.5 397.9L1207.0 397.9L1207.5 398.0L1208.0 398.0L1208.5 398.1L1209.0 398.1L1209.5 398.1L1210.0 398.2L1210.5 398.2L1211.0 398.3L1211.5 398.3L1212.0 398.3L1212.5 398.4L1213.0 398.4L1213.5 398.5L1214.0 398.5L1214.5 398.5L1215.0 398.6L1215.5 398.6L1216.0 398.6L1216.5 398.6L1217.0 398.6L1217.5 398.6L1218.0 398.6L1218.5 398.5L1219.0 398.5L1219.5 398.4L1220.0 398.4L1220.5 398.3L1221.0 398.3L1221.5 398.2L1222.0 398.2L1222.5 398.1L1223.0 398.0L1223.5 398.0L1224.0 397.9L1224.5 397.8L1225.0 397.8L1225.5 397.7L1226.0 397.6L1226.5 397.5L1227.0 397.4L1227.5 397.3L1228.0 397.3L1228.5 397.2L1229.0 397.1L1229.5 397.0L1230.0 396.8L1230.5 396.7L1231.0 396.6L1231.5 396.5L1232.0 396.4L1232.5 396.3L1233.0 396.1L1233.5 396.0L1234.0 395.9L1234.5 395.7L1235.0 395.6L1235.5 395.5L1236.0 395.3L1236.5 395.2L1237.0 395.1L1237.5 394.9L1238.0 394.8L1238.5 394.7L1239.0 394.5L1239.5 394.4L1240.0 394.3L1240.5 394.1L1241.0 394.0" fill="none" stroke="#f5302a" stroke-width="1.35" stroke-linejoin="round" stroke-linecap="round"/>
<path d="M47.0 563.0L47.5 564.9L48.0 566.8L48.5 568.8L49.0 570.7L49.5 572.6L50.0 574.3L50.5 576.0L51.0 577.4L51.5 578.8L52.0 580.1L52.5 581.3L53.0 582.5L53.5 583.6L54.0 584.7L54.5 585.7L55.0 586.7L55.5 587.7L56.0 588.6L56.5 589.4L57.0 590.2L57.5 591.0L58.0 591.7L58.5 592.3L59.0 592.9L59.5 593.5L60.0 594.0L60.5 594.5L61.0 594.9L61.5 595.3L62.0 595.7L62.5 596.0L63.0 596.4L63.5 596.7L64.0 596.9L64.5 597.2L65.0 597.4L65.5 597.5L66.0 597.5L66.5 597.5L67.0 597.4L67.5 597.3L68.0 597.2L68.5 597.0L69.0 596.8L69.5 596.5L70.0 596.3L70.5 596.0L71.0 595.8L71.5 595.5L72.0 595.2L72.5 594.9L73.0 594.7L73.5 594.4L74.0 594.2L74.5 593.9L75.0 593.7L75.5 593.5L76.0 593.3L76.5 593.1L77.0 592.9L77.5 592.8L78.0 592.6L78.5 592.4L79.0 592.3L79.5 592.1L80.0 592.0L80.5 591.9L81.0 591.8L81.5 591.7L82.0 591.7L82.5 591.7L83.0 591.7L83.5 591.8L84.0 591.9L84.5 592.1L85.0 592.4L85.5 592.7L86.0 592.9L86.5 593.3L87.0 593.6L87.5 593.9L88.0 594.3L88.5 594.6L89.0 595.0L89.5 595.4L90.0 595.7L90.5 596.1L91.0 596.5L91.5 596.8L92.0 597.2L92.5 597.5L93.0 597.8L93.5 598.1L94.0 598.4L94.5 598.8L95.0 599.1L95.5 599.4L96.0 599.7L96.5 600.0L97.0 600.3L97.5 600.6L98.0 600.9L98.5 601.2L99.0 601.6L99.5 601.9L100.0 602.2L100.5 602.5L101.0 602.8L101.5 603.1L102.0 603.4L102.5 603.7L103.0 604.0L103.5 604.4L104.0 604.7L104.5 605.0L105.0 605.4L105.5 605.7L106.0 606.0L106.5 606.2L107.0 606.4L107.5 606.6L108.0 606.7L108.5 606.7L109.0 606.6L109.5 606.5L110.0 606.1L110.5 605.6L111.0 604.9L111.5 604.1L112.0 603.1L112.5 601.8L113.0 600.2L113.5 598.2L114.0 595.8L114.5 593.1L115.0 590.0L115.5 586.7L116.0 583.0L116.5 579.0L117.0 574.6L117.5 569.7L118.0 564.3L118.5 558.4L119.0 551.9L119.5 545.2L120.0 538.4L120.5 531.7L121.0 525.1L121.5 518.6L122.0 512.2L122.5 505.8L123.0 499.5L123.5 493.2L124.0 487.0L124.5 481.0L125.0 475.2L125.5 469.9L126.0 464.9L126.5 460.1L127.0 455.1L127.5 449.7L128.0 443.7L128.5 437.4L129.0 430.8L129.5 424.3L130.0 418.1L130.5 412.3L131.0 407.1L131.5 402.5L132.0 398.3L132.5 394.6L133.0 391.4L133.5 388.9L134.0 387.1L134.5 386.1L135.0 385.8L135.5 386.1L136.0 387.1L136.5 388.9L137.0 391.4L137.5 394.6L138.0 398.3L138.5 402.5L139.0 407.1L139.5 412.3L140.0 417.8L140.5 423.8L141.0 430.1L141.5 436.6L142.0 443.3L142.5 450.1L143.0 457.1L143.5 464.4L144.0 471.8L144.5 479.2L145.0 486.4L145.5 493.3L146.0 499.9L146.5 506.1L147.0 512.3L147.5 518.3L148.0 524.2L148.5 530.0L149.0 535.5L149.5 540.8L150.0 545.8L150.5 550.5L151.0 554.8L151.5 558.8L152.0 562.4L152.5 565.7L153.0 568.7L153.5 571.5L154.0 574.0L154.5 576.3L155.0 578.5L155.5 580.5L156.0 582.5L156.5 584.3L157.0 586.0L157.5 587.6L158.0 589.2L158.5 590.6L159.0 592.0L159.5 593.4L160.0 594.6L160.5 595.8L161.0 597.0L161.5 598.1L162.0 599.1L162.5 600.2L163.0 601.1L163.5 602.1L164.0 603.0L164.5 603.9L165.0 604.8L165.5 605.6L166.0 606.4L166.5 607.2L167.0 607.9L167.5 608.6L168.0 609.3L168.5 609.9L169.0 610.5L169.5 611.0L170.0 611.6L170.5 612.1L171.0 612.5L171.5 612.9L172.0 613.3L172.5 613.7L173.0 614.0L173.5 614.3L174.0 614.5L174.5 614.7L175.0 614.9L175.5 615.0L176.0 615.1L176.5 615.2L177.0 615.3L177.5 615.3L178.0 615.4L178.5 615.4L179.0 615.4L179.5 615.5L180.0 615.5L180.5 615.6L181.0 615.7L181.5 615.8L182.0 615.9L182.5 616.0L183.0 616.2L183.5 616.3L184.0 616.5L184.5 616.7L185.0 616.9L185.5 617.2L186.0 617.4L186.5 617.6L187.0 617.8L187.5 618.1L188.0 618.3L188.5 618.5L189.0 618.7L189.5 618.9L190.0 619.2L190.5 619.4L191.0 619.6L191.5 619.7L192.0 619.9L192.5 620.1L193.0 620.2L193.5 620.3L194.0 620.4L194.5 620.5L195.0 620.5L195.5 620.5L196.0 620.4L196.5 620.2L197.0 620.0L197.5 619.7L198.0 619.4L198.5 619.0L199.0 618.6L199.5 618.1L200.0 617.5L200.5 616.8L201.0 616.0L201.5 615.1L202.0 614.1L202.5 613.1L203.0 612.1L203.5 610.9L204.0 609.6L204.5 608.1L205.0 606.4L205.5 604.5L206.0 602.4L206.5 600.0L207.0 597.4L207.5 594.6L208.0 591.6L208.5 588.4L209.0 585.1L209.5 581.5L210.0 577.8L210.5 574.0L211.0 569.9L211.5 565.6L212.0 561.1L212.5 556.4L213.0 551.5L213.5 546.5L214.0 541.3L214.5 536.1L215.0 530.7L215.5 525.4L216.0 520.0L216.5 514.4L217.0 508.8L217.5 503.0L218.0 497.2L218.5 491.3L219.0 485.4L219.5 479.5L220.0 473.7L220.5 468.1L221.0 462.8L221.5 458.1L222.0 453.9L222.5 449.9L223.0 445.7L223.5 441.3L224.0 437.0L224.5 432.8L225.0 428.8L225.5 425.2L226.0 422.0L226.5 419.2L227.0 416.9L227.5 415.1L228.0 413.9L228.5 413.3L229.0 413.1L229.5 413.3L230.0 413.9L230.5 415.1L231.0 416.9L231.5 419.2L232.0 422.0L232.5 425.2L233.0 428.7L233.5 432.5L234.0 436.6L234.5 441.0L235.0 445.4L235.5 450.1L236.0 454.8L236.5 459.6L237.0 464.6L237.5 469.6L238.0 474.7L238.5 479.8L239.0 484.9L239.5 490.0L240.0 495.0L240.5 500.1L241.0 505.4L241.5 510.6L242.0 515.9L242.5 521.2L243.0 526.4L243.5 531.4L244.0 536.1L244.5 540.6L245.0 544.8L245.5 548.7L246.0 552.3L246.5 555.6L247.0 558.7L247.5 561.7L248.0 564.5L248.5 567.2L249.0 569.8L249.5 572.4L250.0 574.9L250.5 577.3L251.0 579.4L251.5 581.2L252.0 582.6L252.5 583.6L253.0 584.2L253.5 584.4L254.0 584.5L254.5 584.4L255.0 584.1L255.5 583.8L256.0 583.3L256.5 582.7L257.0 582.1L257.5 581.4L258.0 580.6L258.5 579.8L259.0 579.1L259.5 578.3L260.0 577.5L260.5 576.7L261.0 575.8L261.5 574.9L262.0 574.0L262.5 573.1L263.0 572.2L263.5 571.3L264.0 570.5L264.5 569.8L265.0 569.1L265.5 568.6L266.0 568.3L266.5 568.1L267.0 568.0L267.5 568.1L268.0 568.3L268.5 568.6L269.0 569.1L269.5 569.7L270.0 570.3L270.5 571.1L271.0 571.9L271.5 572.8L272.0 573.7L272.5 574.8L273.0 575.9L273.5 577.0L274.0 578.3L274.5 579.7L275.0 581.1L275.5 582.6L276.0 584.2L276.5 585.9L277.0 587.5L277.5 589.2L278.0 590.9L278.5 592.6L279.0 594.3L279.5 595.9L280.0 597.5L280.5 599.1L281.0 600.8L281.5 602.4L282.0 604.1L282.5 605.8L283.0 607.4L283.5 609.0L284.0 610.6L284.5 612.1L285.0 613.5L285.5 614.8L286.0 615.9L286.5 617.0L287.0 618.0L287.5 618.9L288.0 619.8L288.5 620.5L289.0 621.2L289.5 621.9L290.0 622.5L290.5 623.1L291.0 623.6L291.5 624.1L292.0 624.6L292.5 625.0L293.0 625.4L293.5 625.7L294.0 626.0L294.5 626.2L295.0 626.4L295.5 626.6L296.0 626.8L296.5 626.9L297.0 627.0L297.5 627.1L298.0 627.1L298.5 627.2L299.0 627.3L299.5 627.4L300.0 627.4L300.5 627.5L301.0 627.5L301.5 627.5L302.0 627.4L302.5 627.4L303.0 627.3L303.5 627.2L304.0 627.1L304.5 627.0L305.0 626.9L305.5 626.7L306.0 626.6L306.5 626.4L307.0 626.2L307.5 625.9L308.0 625.5L308.5 625.1L309.0 624.7L309.5 624.2L310.0 623.7L310.5 623.2L311.0 622.6L311.5 622.0L312.0 621.3L312.5 620.6L313.0 619.8L313.5 618.9L314.0 618.0L314.5 617.0L315.0 616.0L315.5 614.8L316.0 613.6L316.5 612.3L317.0 610.9L317.5 609.4L318.0 607.8L318.5 606.1L319.0 604.2L319.5 602.1L320.0 599.9L320.5 597.5L321.0 594.9L321.5 592.2L322.0 589.3L322.5 586.3L323.0 583.2L323.5 580.0L324.0 576.7L324.5 573.3L325.0 569.9L325.5 566.5L326.0 562.8L326.5 559.1L327.0 555.3L327.5 551.4L328.0 547.5L328.5 543.6L329.0 539.8L329.5 536.1L330.0 532.5L330.5 529.0L331.0 525.5L331.5 522.0L332.0 518.5L332.5 515.1L333.0 511.8L333.5 508.7L334.0 505.6L334.5 502.8L335.0 500.1L335.5 497.7L336.0 495.6L336.5 493.7L337.0 492.1L337.5 490.7L338.0 489.5L338.5 488.6L339.0 488.0L339.5 487.6L340.0 487.5L340.5 487.6L341.0 487.8L341.5 488.1L342.0 488.7L342.5 489.3L343.0 490.1L343.5 491.1L344.0 492.2L344.5 493.5L345.0 495.1L345.5 496.8L346.0 498.7L346.5 500.7L347.0 502.8L347.5 505.0L348.0 507.4L348.5 509.8L349.0 512.3L349.5 514.9L350.0 517.6L350.5 520.4L351.0 523.4L351.5 526.6L352.0 529.8L352.5 533.1L353.0 536.4L353.5 539.8L354.0 543.0L354.5 546.2L355.0 549.3L355.5 552.2L356.0 554.9L356.5 557.5L357.0 560.0L357.5 562.5L358.0 564.8L358.5 567.1L359.0 569.3L359.5 571.5L360.0 573.5L360.5 575.5L361.0 577.4L361.5 579.2L362.0 580.8L362.5 582.4L363.0 583.9L363.5 585.2L364.0 586.4L364.5 587.5L365.0 588.4L365.5 589.3L366.0 590.0L366.5 590.7L367.0 591.3L367.5 591.9L368.0 592.4L368.5 592.7L369.0 592.9L369.5 593.0L370.0 592.9L370.5 592.6L371.0 592.2L371.5 591.5L372.0 590.6L372.5 589.6L373.0 588.4L373.5 587.1L374.0 585.7L374.5 584.1L375.0 582.4L375.5 580.6L376.0 578.6L376.5 576.5L377.0 574.4L377.5 572.1L378.0 569.8L378.5 567.6L379.0 565.4L379.5 563.2L380.0 561.2L380.5 559.3L381.0 557.6L381.5 556.0L382.0 554.5L382.5 553.1L383.0 551.8L383.5 550.6L384.0 549.5L384.5 548.5L385.0 547.5L385.5 546.7L386.0 545.9L386.5 545.3L387.0 544.8L387.5 544.6L388.0 544.5L388.5 544.6L389.0 544.9L389.5 545.5L390.0 546.4L390.5 547.5L391.0 548.8L391.5 550.3L392.0 551.9L392.5 553.5L393.0 555.2L393.5 556.8L394.0 558.5L394.5 560.3L395.0 562.1L395.5 564.0L396.0 565.9L396.5 567.9L397.0 569.8L397.5 571.7L398.0 573.5L398.5 575.3L399.0 577.0L399.5 578.5L400.0 579.9L400.5 581.2L401.0 582.4L401.5 583.4L402.0 584.4L402.5 585.2L403.0 586.0L403.5 586.6L404.0 587.2L404.5 587.8L405.0 588.3L405.5 588.6L406.0 588.9L406.5 589.0L407.0 588.9L407.5 588.8L408.0 588.4L408.5 587.8L409.0 587.0L409.5 586.0L410.0 585.0L410.5 583.8L411.0 582.4L411.5 580.9L412.0 579.3L412.5 577.4L413.0 575.4L413.5 573.2L414.0 570.9L414.5 568.4L415.0 565.9L415.5 563.3L416.0 560.7L416.5 558.1L417.0 555.6L417.5 553.1L418.0 550.7L418.5 548.4L419.0 546.3L419.5 544.2L420.0 542.2L420.5 540.3L421.0 538.5L421.5 536.7L422.0 535.0L422.5 533.4L423.0 532.0L423.5 530.6L424.0 529.4L424.5 528.4L425.0 527.5L425.5 526.9L426.0 526.3L426.5 525.9L427.0 525.5L427.5 525.3L428.0 525.1L428.5 525.0L429.0 525.1L429.5 525.2L430.0 525.5L430.5 526.0L431.0 526.7L431.5 527.5L432.0 528.3L432.5 529.3L433.0 530.3L433.5 531.4L434.0 532.6L434.5 533.8L435.0 535.0L435.5 536.4L436.0 537.8L436.5 539.3L437.0 540.9L437.5 542.5L438.0 544.1L438.5 545.7L439.0 547.2L439.5 548.7L440.0 550.1L440.5 551.3L441.0 552.4L441.5 553.4L442.0 554.3L442.5 555.2L443.0 555.9L443.5 556.6L444.0 557.3L444.5 557.9L445.0 558.4L445.5 558.9L446.0 559.4L446.5 559.8L447.0 560.1L447.5 560.5L448.0 560.8L448.5 561.0L449.0 561.2L449.5 561.3L450.0 561.4L450.5 561.4L451.0 561.4L451.5 561.5L452.0 561.5L452.5 561.5L453.0 561.5L453.5 561.6L454.0 561.7L454.5 561.8L455.0 562.0L455.5 562.2L456.0 562.5L456.5 562.9L457.0 563.4L457.5 563.9L458.0 564.5L458.5 565.1L459.0 565.8L459.5 566.5L460.0 567.2L460.5 568.0L461.0 568.7L461.5 569.5L462.0 570.3L462.5 571.0L463.0 571.8L463.5 572.5L464.0 573.3L464.5 574.2L465.0 575.0L465.5 575.8L466.0 576.7L466.5 577.5L467.0 578.4L467.5 579.2L468.0 580.0L468.5 580.8L469.0 581.6L469.5 582.3L470.0 583.0L470.5 583.6L471.0 584.1L471.5 584.6L472.0 584.9L472.5 585.3L473.0 585.5L473.5 585.7L474.0 585.9L474.5 586.0L475.0 586.0L475.5 586.0L476.0 585.9L476.5 585.8L477.0 585.6L477.5 585.3L478.0 585.1L478.5 584.8L479.0 584.5L479.5 584.2L480.0 583.8L480.5 583.5L481.0 583.1L481.5 582.8L482.0 582.4L482.5 582.0L483.0 581.6L483.5 581.2L484.0 580.8L484.5 580.3L485.0 579.9L485.5 579.5L486.0 579.1L486.5 578.6L487.0 578.2L487.5 577.7L488.0 577.3L488.5 576.8L489.0 576.3L489.5 575.8L490.0 575.3L490.5 574.8L491.0 574.2L491.5 573.7L492.0 573.1L492.5 572.5L493.0 571.9L493.5 571.3L494.0 570.6L494.5 570.0L495.0 569.3L495.5 568.5L496.0 567.8L496.5 566.9L497.0 566.0L497.5 565.1L498.0 564.0L498.5 562.9L499.0 561.7L499.5 560.4L500.0 558.9L500.5 557.4L501.0 555.8L501.5 554.1L502.0 552.4L502.5 550.7L503.0 549.0L503.5 547.3L504.0 545.7L504.5 544.1L505.0 542.5L505.5 541.0L506.0 539.5L506.5 538.0L507.0 536.6L507.5 535.2L508.0 533.8L508.5 532.4L509.0 531.1L509.5 529.9L510.0 528.7L510.5 527.7L511.0 526.7L511.5 525.9L512.0 525.2L512.5 524.6L513.0 524.2L513.5 523.9L514.0 523.8L514.5 523.7L515.0 523.8L515.5 523.9L516.0 524.2L516.5 524.6L517.0 525.1L517.5 525.8L518.0 526.5L518.5 527.2L519.0 528.1L519.5 529.0L520.0 530.0L520.5 531.1L521.0 532.3L521.5 533.6L522.0 534.9L522.5 536.2L523.0 537.6L523.5 538.9L524.0 540.3L524.5 541.6L525.0 542.8L525.5 543.9L526.0 544.9L526.5 545.9L527.0 546.7L527.5 547.4L528.0 548.1L528.5 548.7L529.0 549.2L529.5 549.6L530.0 550.0L530.5 550.2L531.0 550.4L531.5 550.5L532.0 550.5L532.5 550.4L533.0 550.2L533.5 549.9L534.0 549.4L534.5 548.9L535.0 548.3L535.5 547.7L536.0 547.0L536.5 546.3L537.0 545.7L537.5 545.1L538.0 544.5L538.5 543.9L539.0 543.4L539.5 543.0L540.0 542.6L540.5 542.2L541.0 541.9L541.5 541.6L542.0 541.3L542.5 541.1L543.0 540.9L543.5 540.8L544.0 540.7L544.5 540.7L545.0 540.8L545.5 540.9L546.0 541.2L546.5 541.6L547.0 542.1L547.5 542.7L548.0 543.3L548.5 544.0L549.0 544.8L549.5 545.5L550.0 546.2L550.5 546.9L551.0 547.5L551.5 548.1L552.0 548.7L552.5 549.3L553.0 549.9L553.5 550.5L554.0 551.1L554.5 551.6L555.0 552.1L555.5 552.6L556.0 553.0L556.5 553.3L557.0 553.5L557.5 553.6L558.0 553.7L558.5 553.6L559.0 553.5L559.5 553.2L560.0 552.7L560.5 552.2L561.0 551.6L561.5 550.9L562.0 550.1L562.5 549.3L563.0 548.5L563.5 547.7L564.0 546.8L564.5 545.9L565.0 545.0L565.5 544.0L566.0 543.0L566.5 542.0L567.0 540.9L567.5 539.8L568.0 538.7L568.5 537.6L569.0 536.5L569.5 535.5L570.0 534.4L570.5 533.5L571.0 532.6L571.5 531.8L572.0 531.1L572.5 530.6L573.0 530.2L573.5 529.9L574.0 529.7L574.5 529.5L575.0 529.5L575.5 529.6L576.0 529.8L576.5 530.3L577.0 530.9L577.5 531.6L578.0 532.5L578.5 533.5L579.0 534.6L579.5 535.8L580.0 537.1L580.5 538.5L581.0 540.1L581.5 541.7L582.0 543.5L582.5 545.4L583.0 547.3L583.5 549.3L584.0 551.4L584.5 553.5L585.0 555.5L585.5 557.6L586.0 559.6L586.5 561.5L587.0 563.3L587.5 565.0L588.0 566.6L588.5 568.1L589.0 569.5L589.5 571.0L590.0 572.3L590.5 573.6L591.0 574.9L591.5 576.1L592.0 577.3L592.5 578.4L593.0 579.5L593.5 580.6L594.0 581.5L594.5 582.4L595.0 583.1L595.5 583.7L596.0 584.2L596.5 584.7L597.0 585.0L597.5 585.3L598.0 585.4L598.5 585.5L599.0 585.5L599.5 585.3L600.0 585.1L600.5 584.7L601.0 584.2L601.5 583.5L602.0 582.8L602.5 582.1L603.0 581.3L603.5 580.4L604.0 579.5L604.5 578.5L605.0 577.5L605.5 576.5L606.0 575.4L606.5 574.3L607.0 573.2L607.5 572.1L608.0 571.0L608.5 569.8L609.0 568.7L609.5 567.5L610.0 566.3L610.5 565.1L611.0 563.9L611.5 562.7L612.0 561.5L612.5 560.3L613.0 559.2L613.5 558.0L614.0 556.8L614.5 555.6L615.0 554.3L615.5 553.1L616.0 551.8L616.5 550.5L617.0 549.3L617.5 548.0L618.0 546.7L618.5 545.5L619.0 544.3L619.5 543.2L620.0 542.1L620.5 541.0L621.0 540.0L621.5 539.1L622.0 538.2L622.5 537.3L623.0 536.5L623.5 535.7L624.0 535.0L624.5 534.3L625.0 533.7L625.5 533.1L626.0 532.6L626.5 532.1L627.0 531.6L627.5 531.3L628.0 531.1L628.5 531.0L629.0 531.0L629.5 531.1L630.0 531.2L630.5 531.4L631.0 531.7L631.5 532.1L632.0 532.5L632.5 532.9L633.0 533.3L633.5 533.8L634.0 534.3L634.5 534.7L635.0 535.2L635.5 535.6L636.0 536.0L636.5 536.4L637.0 536.8L637.5 537.2L638.0 537.6L638.5 538.0L639.0 538.4L639.5 538.8L640.0 539.2L640.5 539.5L641.0 539.8L641.5 540.1L642.0 540.4L642.5 540.5L643.0 540.6L643.5 540.7L644.0 540.7L644.5 540.6L645.0 540.5L645.5 540.3L646.0 540.0L646.5 539.6L647.0 539.3L647.5 538.8L648.0 538.4L648.5 538.0L649.0 537.5L649.5 537.1L650.0 536.7L650.5 536.3L651.0 536.0L651.5 535.8L652.0 535.6L652.5 535.4L653.0 535.3L653.5 535.2L654.0 535.1L654.5 535.1L655.0 535.0L655.5 535.0L656.0 535.0L656.5 535.1L657.0 535.2L657.5 535.4L658.0 535.7L658.5 536.1L659.0 536.5L659.5 537.0L660.0 537.6L660.5 538.2L661.0 538.8L661.5 539.5L662.0 540.2L662.5 541.0L663.0 541.9L663.5 542.8L664.0 543.7L664.5 544.7L665.0 545.7L665.5 546.8L666.0 547.9L666.5 548.9L667.0 550.0L667.5 551.1L668.0 552.1L668.5 553.1L669.0 554.1L669.5 555.1L670.0 556.0L670.5 556.9L671.0 557.8L671.5 558.6L672.0 559.5L672.5 560.3L673.0 561.2L673.5 562.0L674.0 562.8L674.5 563.6L675.0 564.3L675.5 565.0L676.0 565.7L676.5 566.3L677.0 566.9L677.5 567.5L678.0 568.0L678.5 568.5L679.0 569.0L679.5 569.4L680.0 569.8L680.5 570.3L681.0 570.7L681.5 571.0L682.0 571.4L682.5 571.7L683.0 572.1L683.5 572.4L684.0 572.7L684.5 573.0L685.0 573.2L685.5 573.5L686.0 573.8L686.5 574.0L687.0 574.3L687.5 574.5L688.0 574.7L688.5 574.9L689.0 575.2L689.5 575.4L690.0 575.5L690.5 575.7L691.0 575.9L691.5 576.1L692.0 576.2L692.5 576.4L693.0 576.5L693.5 576.6L694.0 576.8L694.5 576.9L695.0 577.0L695.5 577.1L696.0 577.2L696.5 577.3L697.0 577.4L697.5 577.5L698.0 577.6L698.5 577.7L699.0 577.8L699.5 577.9L700.0 578.0L700.5 578.0L701.0 578.0L701.5 578.0L702.0 578.0L702.5 577.9L703.0 577.8L703.5 577.8L704.0 577.7L704.5 577.6L705.0 577.5L705.5 577.4L706.0 577.3L706.5 577.2L707.0 577.1L707.5 577.0L708.0 576.8L708.5 576.7L709.0 576.6L709.5 576.5L710.0 576.4L710.5 576.2L711.0 576.1L711.5 576.0L712.0 575.8L712.5 575.7L713.0 575.6L713.5 575.4L714.0 575.3L714.5 575.1L715.0 575.0L715.5 574.9L716.0 574.7L716.5 574.6L717.0 574.4L717.5 574.2L718.0 574.1L718.5 573.9L719.0 573.8L719.5 573.6L720.0 573.4L720.5 573.2L721.0 573.1L721.5 572.9L722.0 572.7L722.5 572.6L723.0 572.4L723.5 572.2L724.0 572.1L724.5 571.9L725.0 571.7L725.5 571.6L726.0 571.4L726.5 571.3L727.0 571.1L727.5 571.0L728.0 570.9L728.5 570.8L729.0 570.7L729.5 570.6L730.0 570.5L730.5 570.4L731.0 570.3L731.5 570.3L732.0 570.2L732.5 570.1L733.0 570.1L733.5 570.1L734.0 570.0L734.5 570.0L735.0 570.0L735.5 570.0L736.0 570.0L736.5 570.1L737.0 570.2L737.5 570.3L738.0 570.4L738.5 570.5L739.0 570.7L739.5 570.8L740.0 570.9L740.5 571.1L741.0 571.2L741.5 571.4L742.0 571.5L742.5 571.7L743.0 571.9L743.5 572.0L744.0 572.2L744.5 572.3L745.0 572.5L745.5 572.7L746.0 572.8L746.5 573.0L747.0 573.1L747.5 573.3L748.0 573.5L748.5 573.6L749.0 573.8L749.5 574.0L750.0 574.2L750.5 574.3L751.0 574.5L751.5 574.7L752.0 574.8L752.5 575.0" fill="none" stroke="#2c2cf0" stroke-width="1.35" stroke-linejoin="round" stroke-linecap="round"/>
<path d="M773.2 574.0L773.7 574.0L774.2 573.9L774.7 573.9L775.2 573.9L775.7 573.9L776.2 573.9L776.7 573.8L777.2 573.8L777.7 573.7L778.2 573.5L778.7 573.3L779.2 573.0L779.7 572.6L780.2 572.2L780.7 571.7L781.2 571.3L781.7 570.8L782.2 570.4L782.7 569.9L783.2 569.5L783.7 569.1L784.2 568.6L784.7 568.0L785.2 567.2L785.7 566.3L786.2 565.3L786.7 564.1L787.2 562.9L787.7 561.5L788.2 560.0L788.7 558.2L789.2 556.3L789.7 554.3L790.2 552.1L790.7 550.0L791.2 548.0L791.7 546.2L792.2 544.6L792.7 543.3L793.2 542.3L793.7 541.7L794.2 541.4L794.7 541.5L795.2 541.9L795.7 542.8L796.2 544.2L796.7 545.8L797.2 547.6L797.7 549.4L798.2 551.4L798.7 553.2L799.2 554.7L799.7 555.8L800.2 556.5L800.7 556.8L801.2 556.9L801.7 557.0L802.2 557.0L802.7 556.9L803.2 556.7L803.7 556.4L804.2 555.9L804.7 555.4L805.2 554.7L805.7 553.7L806.2 552.5L806.7 551.1L807.2 549.5L807.7 548.0L808.2 546.7L808.7 545.7L809.2 544.9L809.7 544.4L810.2 544.1L810.7 544.1L811.2 544.3L811.7 544.8L812.2 545.8L812.7 546.9L813.2 548.2L813.7 549.4L814.2 550.5L814.7 551.5L815.2 552.3L815.7 552.9L816.2 553.2L816.7 553.4L817.2 553.4L817.7 553.3L818.2 553.1L818.7 552.7L819.2 552.2L819.7 551.8L820.2 551.6L820.7 551.5L821.2 551.5L821.7 551.7L822.2 552.0L822.7 552.6L823.2 553.4L823.7 554.3L824.2 555.2L824.7 556.1L825.2 557.1L825.7 558.0L826.2 558.9L826.7 559.8L827.2 560.7L827.7 561.6L828.2 562.5L828.7 563.4L829.2 564.2L829.7 564.8L830.2 565.2L830.7 565.3L831.2 565.3L831.7 565.1L832.2 564.6L832.7 563.7L833.2 562.5L833.7 561.2L834.2 560.0L834.7 558.8L835.2 557.7L835.7 556.5L836.2 555.4L836.7 554.3L837.2 553.4L837.7 552.6L838.2 552.0L838.7 551.5L839.2 551.3L839.7 551.2L840.2 551.3L840.7 551.6L841.2 552.0L841.7 552.7L842.2 553.6L842.7 554.5L843.2 555.6L843.7 556.7L844.2 557.9L844.7 559.2L845.2 560.3L845.7 561.3L846.2 562.2L846.7 562.9L847.2 563.3L847.7 563.6L848.2 563.8L848.7 564.0L849.2 564.1L849.7 564.3L850.2 564.5L850.7 564.9L851.2 565.3L851.7 565.7L852.2 566.0L852.7 566.4L853.2 566.6L853.7 566.7L854.2 566.8L854.7 566.8L855.2 566.7L855.7 566.6L856.2 566.3L856.7 565.9L857.2 565.4L857.7 564.8L858.2 564.1L858.7 563.5L859.2 562.8L859.7 562.3L860.2 561.7L860.7 561.0L861.2 560.4L861.7 559.9L862.2 559.4L862.7 558.9L863.2 558.6L863.7 558.4L864.2 558.3L864.7 558.3L865.2 558.4L865.7 558.5L866.2 558.9L866.7 559.4L867.2 560.0L867.7 560.8L868.2 561.6L868.7 562.5L869.2 563.3L869.7 564.3L870.2 565.2L870.7 566.2L871.2 567.1L871.7 567.9L872.2 568.6L872.7 569.0L873.2 569.3L873.7 569.4L874.2 569.4L874.7 569.3L875.2 569.1L875.7 568.7L876.2 568.1L876.7 567.4L877.2 566.6L877.7 565.9L878.2 565.2L878.7 564.5L879.2 564.0L879.7 563.4L880.2 562.8L880.7 562.3L881.2 561.6L881.7 560.9L882.2 560.1L882.7 559.2L883.2 558.2L883.7 557.1L884.2 556.0L884.7 554.8L885.2 553.7L885.7 552.6L886.2 551.6L886.7 550.7L887.2 550.0L887.7 549.5L888.2 549.3L888.7 549.2L889.2 549.3L889.7 549.5L890.2 549.9L890.7 550.5L891.2 551.2L891.7 551.9L892.2 552.7L892.7 553.4L893.2 554.1L893.7 554.9L894.2 555.7L894.7 556.5L895.2 557.3L895.7 558.0L896.2 558.7L896.7 559.2L897.2 559.7L897.7 560.0L898.2 560.2L898.7 560.3L899.2 560.4L899.7 560.5L900.2 560.5L900.7 560.5L901.2 560.6L901.7 560.6L902.2 560.6L902.7 560.6L903.2 560.7L903.7 560.7L904.2 560.8L904.7 560.9L905.2 561.0L905.7 561.1L906.2 561.2L906.7 561.2L907.2 561.3L907.7 561.3L908.2 561.3L908.7 561.3L909.2 561.2L909.7 561.1L910.2 560.8L910.7 560.3L911.2 559.8L911.7 559.3L912.2 558.9L912.7 558.7L913.2 558.6L913.7 558.6L914.2 558.6L914.7 558.7L915.2 558.8L915.7 559.0L916.2 559.3L916.7 559.7L917.2 560.1L917.7 560.5L918.2 560.9L918.7 561.3L919.2 561.7L919.7 562.1L920.2 562.5L920.7 562.9L921.2 563.3L921.7 563.6L922.2 563.9L922.7 564.2L923.2 564.4L923.7 564.4L924.2 564.5L924.7 564.5L925.2 564.3L925.7 564.0L926.2 563.4L926.7 562.5L927.2 561.4L927.7 560.3L928.2 559.2L928.7 558.1L929.2 557.2L929.7 556.3L930.2 555.5L930.7 554.7L931.2 554.0L931.7 553.5L932.2 553.1L932.7 552.8L933.2 552.7L933.7 552.7L934.2 552.8L934.7 552.9L935.2 553.2L935.7 553.7L936.2 554.2L936.7 554.7L937.2 554.9L937.7 555.0L938.2 555.0L938.7 555.0L939.2 554.9L939.7 554.7L940.2 554.4L940.7 554.0L941.2 553.4L941.7 553.0L942.2 552.6L942.7 552.4L943.2 552.3L943.7 552.3L944.2 552.4L944.7 552.5L945.2 552.8L945.7 553.2L946.2 553.9L946.7 554.6L947.2 555.4L947.7 556.3L948.2 557.3L948.7 558.4L949.2 559.6L949.7 560.8L950.2 561.9L950.7 563.0L951.2 563.9L951.7 564.5L952.2 565.0L952.7 565.2L953.2 565.3L953.7 565.2L954.2 565.1L954.7 564.8L955.2 564.5L955.7 564.0L956.2 563.4L956.7 562.8L957.2 562.1L957.7 561.4L958.2 560.7L958.7 559.9L959.2 559.1L959.7 558.3L960.2 557.6L960.7 556.8L961.2 556.1L961.7 555.5L962.2 554.9L962.7 554.3L963.2 553.8L963.7 553.5L964.2 553.3L964.7 553.1L965.2 553.1L965.7 553.1L966.2 553.2L966.7 553.4L967.2 553.7L967.7 554.0L968.2 554.5L968.7 554.9L969.2 555.4L969.7 555.9L970.2 556.3L970.7 556.8L971.2 557.1L971.7 557.4L972.2 557.6L972.7 557.7L973.2 557.7L973.7 557.7L974.2 557.7L974.7 557.6L975.2 557.5L975.7 557.3L976.2 557.2L976.7 557.0L977.2 556.8L977.7 556.6L978.2 556.6L978.7 556.5L979.2 556.5L979.7 556.5L980.2 556.6L980.7 556.7L981.2 556.9L981.7 557.2L982.2 557.5L982.7 557.8L983.2 558.2L983.7 558.6L984.2 559.0L984.7 559.4L985.2 559.9L985.7 560.4L986.2 560.8L986.7 561.3L987.2 561.8L987.7 562.4L988.2 563.0L988.7 563.6L989.2 564.2L989.7 564.9L990.2 565.6L990.7 566.3L991.2 566.9L991.7 567.5L992.2 568.0L992.7 568.5L993.2 568.9L993.7 569.1L994.2 569.2L994.7 569.3L995.2 569.3L995.7 569.2L996.2 569.0L996.7 568.7L997.2 568.4L997.7 567.9L998.2 567.5L998.7 566.9L999.2 566.4L999.7 565.9L1000.2 565.3L1000.7 564.8L1001.2 564.2L1001.7 563.8L1002.2 563.3L1002.7 563.0L1003.2 562.7L1003.7 562.5L1004.2 562.4L1004.7 562.3L1005.2 562.3L1005.7 562.4L1006.2 562.6L1006.7 562.9L1007.2 563.4L1007.7 564.0L1008.2 564.6L1008.7 565.2L1009.2 565.8L1009.7 566.3L1010.2 566.6L1010.7 566.8L1011.2 566.9L1011.7 566.9L1012.2 566.9L1012.7 566.8L1013.2 566.7L1013.7 566.7L1014.2 566.6L1014.7 566.5L1015.2 566.4L1015.7 566.2L1016.2 566.0L1016.7 565.7L1017.2 565.2L1017.7 564.6L1018.2 563.9L1018.7 563.1L1019.2 562.2L1019.7 561.3L1020.2 560.3L1020.7 559.2L1021.2 558.1L1021.7 557.0L1022.2 556.0L1022.7 554.9L1023.2 553.9L1023.7 553.0L1024.2 552.1L1024.7 551.4L1025.2 550.7L1025.7 550.2L1026.2 550.0L1026.7 549.8L1027.2 549.8L1027.7 549.9L1028.2 550.2L1028.7 550.6L1029.2 551.1L1029.7 551.8L1030.2 552.6L1030.7 553.5L1031.2 554.4L1031.7 555.4L1032.2 556.3L1032.7 557.2L1033.2 558.0L1033.7 558.7L1034.2 559.3L1034.7 559.8L1035.2 560.0L1035.7 560.2L1036.2 560.2L1036.7 560.2L1037.2 560.1L1037.7 559.9L1038.2 559.7L1038.7 559.4L1039.2 559.0L1039.7 558.6L1040.2 558.2L1040.7 557.8L1041.2 557.3L1041.7 556.9L1042.2 556.4L1042.7 556.0L1043.2 555.6L1043.7 555.2L1044.2 554.8L1044.7 554.5L1045.2 554.3L1045.7 554.1L1046.2 554.0L1046.7 554.0L1047.2 554.0L1047.7 554.0L1048.2 554.0L1048.7 554.0L1049.2 554.1L1049.7 554.1L1050.2 554.1L1050.7 554.1L1051.2 554.1L1051.7 554.2L1052.2 554.2L1052.7 554.2L1053.2 554.3L1053.7 554.3L1054.2 554.4L1054.7 554.5L1055.2 554.5L1055.7 554.7L1056.2 554.8L1056.7 555.0L1057.2 555.2L1057.7 555.4L1058.2 555.7L1058.7 555.9L1059.2 556.2L1059.7 556.5L1060.2 556.8L1060.7 557.0L1061.2 557.2L1061.7 557.4L1062.2 557.6L1062.7 557.6L1063.2 557.7L1063.7 557.7L1064.2 557.7L1064.7 557.6L1065.2 557.5L1065.7 557.3L1066.2 557.1L1066.7 556.8L1067.2 556.5L1067.7 556.2L1068.2 555.9L1068.7 555.6L1069.2 555.2L1069.7 554.9L1070.2 554.6L1070.7 554.3L1071.2 554.0L1071.7 553.7L1072.2 553.5L1072.7 553.3L1073.2 553.2L1073.7 553.1L1074.2 553.1L1074.7 553.1L1075.2 553.2L1075.7 553.5L1076.2 553.8L1076.7 554.2L1077.2 554.7L1077.7 555.2L1078.2 555.7L1078.7 556.3L1079.2 557.0L1079.7 557.6L1080.2 558.3L1080.7 559.0L1081.2 559.7L1081.7 560.4L1082.2 561.1L1082.7 561.8L1083.2 562.4L1083.7 563.1L1084.2 563.7L1084.7 564.2L1085.2 564.7L1085.7 565.2L1086.2 565.6L1086.7 565.9L1087.2 566.2L1087.7 566.3L1088.2 566.3L1088.7 566.3L1089.2 566.2L1089.7 566.0L1090.2 565.8L1090.7 565.5L1091.2 565.2L1091.7 564.9L1092.2 564.5L1092.7 564.1L1093.2 563.7L1093.7 563.3L1094.2 562.9L1094.7 562.5L1095.2 562.2L1095.7 561.9L1096.2 561.7L1096.7 561.5L1097.2 561.4L1097.7 561.4L1098.2 561.4L1098.7 561.5L1099.2 561.6L1099.7 561.8L1100.2 562.1L1100.7 562.4L1101.2 562.8L1101.7 563.2L1102.2 563.6L1102.7 564.1L1103.2 564.6L1103.7 565.0L1104.2 565.5L1104.7 566.0L1105.2 566.5L1105.7 566.9L1106.2 567.3L1106.7 567.7L1107.2 568.0L1107.7 568.3L1108.2 568.5L1108.7 568.6L1109.2 568.7L1109.7 568.7L1110.2 568.6L1110.7 568.5L1111.2 568.3L1111.7 568.0L1112.2 567.6L1112.7 567.2L1113.2 566.8L1113.7 566.3L1114.2 565.8L1114.7 565.3L1115.2 564.7L1115.7 564.2L1116.2 563.6L1116.7 563.1L1117.2 562.5L1117.7 561.9L1118.2 561.4L1118.7 560.8L1119.2 560.3L1119.7 559.8L1120.2 559.3L1120.7 558.9L1121.2 558.4L1121.7 558.1L1122.2 557.7L1122.7 557.4L1123.2 557.2L1123.7 557.1L1124.2 557.1L1124.7 557.2L1125.2 557.3L1125.7 557.5L1126.2 557.9L1126.7 558.3L1127.2 558.9L1127.7 559.5L1128.2 560.1L1128.7 560.8L1129.2 561.5L1129.7 562.2L1130.2 562.9L1130.7 563.6L1131.2 564.2L1131.7 564.7L1132.2 565.1L1132.7 565.4L1133.2 565.6L1133.7 565.7L1134.2 565.7L1134.7 565.6L1135.2 565.4L1135.7 565.0L1136.2 564.6L1136.7 564.1L1137.2 563.5L1137.7 562.9L1138.2 562.2L1138.7 561.5L1139.2 560.8L1139.7 560.1L1140.2 559.3L1140.7 558.6L1141.2 557.8L1141.7 557.0L1142.2 556.3L1142.7 555.5L1143.2 554.8L1143.7 554.1L1144.2 553.4L1144.7 552.7L1145.2 552.1L1145.7 551.5L1146.2 551.0L1146.7 550.6L1147.2 550.1L1147.7 549.8L1148.2 549.4L1148.7 549.1L1149.2 548.9L1149.7 548.6L1150.2 548.4L1150.7 548.2L1151.2 548.1L1151.7 547.9L1152.2 547.8L1152.7 547.6L1153.2 547.5L1153.7 547.4L1154.2 547.3L1154.7 547.3L1155.2 547.3L1155.7 547.3L1156.2 547.4L1156.7 547.5L1157.2 547.6L1157.7 547.6L1158.2 547.7L1158.7 547.8L1159.2 547.9L1159.7 548.0L1160.2 548.1L1160.7 548.2L1161.2 548.3L1161.7 548.4L1162.2 548.5L1162.7 548.6L1163.2 548.8L1163.7 548.9L1164.2 549.1L1164.7 549.3L1165.2 549.6L1165.7 549.8L1166.2 550.1L1166.7 550.4L1167.2 550.7L1167.7 551.1L1168.2 551.5L1168.7 552.0L1169.2 552.5L1169.7 553.1L1170.2 553.7L1170.7 554.4L1171.2 555.1L1171.7 555.8L1172.2 556.5L1172.7 557.2L1173.2 557.9L1173.7 558.6L1174.2 559.3L1174.7 560.0L1175.2 560.7L1175.7 561.3L1176.2 561.9L1176.7 562.4L1177.2 562.9L1177.7 563.3L1178.2 563.6L1178.7 563.7L1179.2 563.8L1179.7 563.8L1180.2 563.7L1180.7 563.6L1181.2 563.3L1181.7 563.0L1182.2 562.6L1182.7 562.2L1183.2 561.7L1183.7 561.2L1184.2 560.7L1184.7 560.3L1185.2 559.9L1185.7 559.6L1186.2 559.4L1186.7 559.3L1187.2 559.2L1187.7 559.2L1188.2 559.3L1188.7 559.4L1189.2 559.6L1189.7 559.9L1190.2 560.3L1190.7 560.7L1191.2 561.1L1191.7 561.6L1192.2 562.0L1192.7 562.5L1193.2 563.0L1193.7 563.5L1194.2 564.0L1194.7 564.5L1195.2 565.0L1195.7 565.5L1196.2 565.9L1196.7 566.3L1197.2 566.7L1197.7 567.0L1198.2 567.4L1198.7 567.8L1199.2 568.1L1199.7 568.4L1200.2 568.7L1200.7 569.0L1201.2 569.3L1201.7 569.6L1202.2 569.9L1202.7 570.1L1203.2 570.3L1203.7 570.4L1204.2 570.5L1204.7 570.6L1205.2 570.6L1205.7 570.6L1206.2 570.5L1206.7 570.4L1207.2 570.2L1207.7 570.0L1208.2 569.8L1208.7 569.6L1209.2 569.4L1209.7 569.1L1210.2 568.9L1210.7 568.6L1211.2 568.3L1211.7 568.1L1212.2 567.8L1212.7 567.5L1213.2 567.2L1213.7 567.0L1214.2 566.7L1214.7 566.4L1215.2 566.1L1215.7 565.9L1216.2 565.6L1216.7 565.4L1217.2 565.1L1217.7 564.9L1218.2 564.7L1218.7 564.4L1219.2 564.2L1219.7 564.0L1220.2 563.8L1220.7 563.6L1221.2 563.3L1221.7 563.1L1222.2 562.9L1222.7 562.6L1223.2 562.4L1223.7 562.1L1224.2 561.8L1224.7 561.5L1225.2 561.2L1225.7 560.9L1226.2 560.5L1226.7 560.1L1227.2 559.6L1227.7 559.2L1228.2 558.7L1228.7 558.1L1229.2 557.6L1229.7 557.1L1230.2 556.5L1230.7 556.0L1231.2 555.5L1231.7 555.0L1232.2 554.5L1232.7 554.1L1233.2 553.7L1233.7 553.3L1234.2 553.0L1234.7 552.7L1235.2 552.6L1235.7 552.5L1236.2 552.5L1236.7 552.6L1237.2 552.7L1237.7 552.9L1238.2 553.2L1238.7 553.6L1239.2 554.0L1239.7 554.5L1240.2 554.9L1240.7 555.3L1241.0 555.6" fill="none" stroke="#2c2cf0" stroke-width="1.35" stroke-linejoin="round" stroke-linecap="round"/>
<g stroke="#00f000" stroke-width="1.8" fill="#00f000" stroke-linecap="butt">
<line x1="349.0" y1="327.6" x2="367.4" y2="327.6"/><polygon stroke="none" points="373.4,327.6 362.6,332.4 365.8,327.6 362.6,322.8"/>
<line x1="396.6" y1="350.7" x2="413.6" y2="350.7"/><polygon stroke="none" points="419.6,350.7 408.8,355.5 412.0,350.7 408.8,345.9"/>
<line x1="396.6" y1="350.7" x2="396.6" y2="367.9"/><polygon stroke="none" points="396.6,373.9 391.8,363.1 396.6,366.3 401.4,363.1"/>
<line x1="437.3" y1="337.3" x2="437.3" y2="355.5"/><polygon stroke="none" points="437.3,361.5 432.5,350.7 437.3,353.9 442.1,350.7"/>
<line x1="522.5" y1="343.0" x2="522.5" y2="361.0"/><polygon stroke="none" points="522.5,367.0 517.7,356.2 522.5,359.4 527.3,356.2"/>
<line x1="552.0" y1="343.0" x2="552.0" y2="361.0"/><polygon stroke="none" points="552.0,367.0 547.2,356.2 552.0,359.4 556.8,356.2"/>
<line x1="583.7" y1="337.5" x2="583.7" y2="355.0"/><polygon stroke="none" points="583.7,361.0 578.9,350.2 583.7,353.4 588.5,350.2"/>
<line x1="622.0" y1="344.5" x2="602.5" y2="344.5"/><polygon stroke="none" points="596.5,344.5 607.3,339.7 604.1,344.5 607.3,349.3"/>
<line x1="622.0" y1="344.5" x2="622.0" y2="361.8"/><polygon stroke="none" points="622.0,367.8 617.2,357.0 622.0,360.2 626.8,357.0"/>
<line x1="670.0" y1="546.0" x2="670.0" y2="529.0"/><polygon stroke="none" points="670.0,523.0 674.8,533.8 670.0,530.6 665.2,533.8"/>
<line x1="743.7" y1="568.0" x2="743.7" y2="551.0"/><polygon stroke="none" points="743.7,545.0 748.5,555.8 743.7,552.6 738.9,555.8"/>
</g>
<g stroke="none" fill="#00f000">
<circle cx="396.6" cy="350.7" r="1.2"/>
<circle cx="622.0" cy="344.5" r="1.2"/>
</g>
<g stroke="#000" stroke-width="2" fill="none" stroke-linecap="butt">
<path d="M46.5 3.5V662"/>
<path d="M45.5 661H751.5"/>
<path d="M774.4 661H1241.5"/>
<path d="M93.5 661V670.4"/>
<path d="M187.5 661V670.4"/>
<path d="M281.7 661V670.4"/>
<path d="M376.2 661V670.4"/>
<path d="M470.2 661V670.4"/>
<path d="M563.9 661V670.4"/>
<path d="M658.2 661V670.4"/>
<path d="M812.0 661V670.4"/>
<path d="M918.9 661V670.4"/>
<path d="M1026.3 661V670.4"/>
<path d="M1133.3 661V670.4"/>
<path d="M1240.5 661V670.4"/>
<path d="M46.5 661V665.8"/>
<path d="M140.5 661V665.8"/>
<path d="M234.5 661V665.8"/>
<path d="M328.7 661V665.8"/>
<path d="M423.0 661V665.8"/>
<path d="M517.0 661V665.8"/>
<path d="M611.3 661V665.8"/>
<path d="M705.5 661V665.8"/>
<path d="M865.7 661V665.8"/>
<path d="M972.7 661V665.8"/>
<path d="M1079.8 661V665.8"/>
<path d="M1186.9 661V665.8"/>
</g>
<g stroke="#000" stroke-width="2.2" stroke-linecap="round"><path d="M743 670L762.2 651.8"/><path d="M763.8 670L783 651.8"/></g>
<g fill="#000" stroke="#000" stroke-width="0.3" text-rendering="geometricPrecision">
<path d="M118.00 32.60L118.00 21.12L113.73 21.12L113.73 19.84C115.71 19.66 117.80 18.96 118.73 16.85L119.98 16.85L119.98 32.60Z"/><text transform="translate(133.60 32.60) scale(1 1.000)" font-size="22.00px" x="-9.17 -3.06 9.17">.42</text>
<text transform="translate(227.90 81.60) scale(1 1.000)" font-size="22.00px" x="-21.41 -9.17 -3.06 9.17">2.43</text>
<text transform="translate(269.40 213.60) scale(1 1.000)" font-size="22.00px" x="-21.41 -9.17 -3.06 9.17">2.86</text>
<path d="M356.18 154.40L356.18 142.92L351.91 142.92L351.91 141.64C353.89 141.46 355.98 140.76 356.91 138.65L358.16 138.65L358.16 154.40Z"/><text transform="translate(341.20 154.40) scale(1 1.000)" font-size="22.00px" x="-21.41 -9.17 -3.06">3.6</text>
<path d="M391.75 185.60L391.75 174.12L387.48 174.12L387.48 172.84C389.46 172.66 391.55 171.96 392.48 169.85L393.73 169.85L393.73 185.60Z"/><text transform="translate(389.00 185.60) scale(1 1.000)" font-size="22.00px" x="-21.41 -9.17 9.17">4.2</text>
<text transform="translate(428.70 163.60) scale(1 1.000)" font-size="22.00px" x="-21.41 -9.17 -3.06 9.17">4.54</text>
<text transform="translate(453.50 119.00) scale(1 1.000)" font-size="22.00px" x="-21.41 -9.17 -3.06 9.17">4.82</text>
<text transform="translate(513.00 157.40) scale(1 1.000)" font-size="22.00px" x="-21.41 -9.17 -3.06 9.17">5.45</text>
<text transform="translate(544.70 77.40) scale(1 1.000)" font-size="22.00px" x="-21.41 -9.17 -3.06 9.17">5.78</text>
<path d="M576.75 119.00L576.75 107.52L572.48 107.52L572.48 106.24C574.46 106.06 576.55 105.36 577.48 103.25L578.73 103.25L578.73 119.00Z"/><path d="M588.98 119.00L588.98 107.52L584.71 107.52L584.71 106.24C586.69 106.06 588.78 105.36 589.71 103.25L590.96 103.25L590.96 119.00Z"/><text transform="translate(574.00 119.00) scale(1 1.000)" font-size="22.00px" x="-21.41 -9.17">6.</text>
<text transform="translate(626.70 142.40) scale(1 1.000)" font-size="22.00px" x="-21.41 -9.17 -3.06 9.17">6.66</text>
<text transform="translate(656.00 181.60) scale(1 1.000)" font-size="22.00px" x="-21.41 -9.17 -3.06 9.17">6.97</text>
<text transform="translate(760.50 535.40) scale(1 1.000)" font-size="22.00px" x="-21.41 -9.17 -3.06 9.17">7.79</text>
<path d="M93.19 696.70L93.19 685.22L88.92 685.22L88.92 683.94C90.90 683.76 92.99 683.06 93.92 680.95L95.17 680.95L95.17 696.70Z"/>
<text transform="translate(187.50 696.70) scale(1 1.000)" font-size="22.00px" x="-6.12">2</text>
<text transform="translate(281.70 696.70) scale(1 1.000)" font-size="22.00px" x="-6.12">3</text>
<text transform="translate(376.20 696.70) scale(1 1.000)" font-size="22.00px" x="-6.12">4</text>
<text transform="translate(470.20 696.70) scale(1 1.000)" font-size="22.00px" x="-6.12">5</text>
<text transform="translate(563.90 696.70) scale(1 1.000)" font-size="22.00px" x="-6.12">6</text>
<text transform="translate(658.20 696.70) scale(1 1.000)" font-size="22.00px" x="-6.12">7</text>
<path d="M805.08 696.70L805.08 685.22L800.81 685.22L800.81 683.94C802.79 683.76 804.88 683.06 805.80 680.95L807.06 680.95L807.06 696.70Z"/><text transform="translate(811.50 696.70) scale(1 1.000)" font-size="22.00px" x="0.00">0</text>
<path d="M912.58 696.70L912.58 685.22L908.31 685.22L908.31 683.94C910.29 683.76 912.38 683.06 913.30 680.95L914.56 680.95L914.56 696.70Z"/><text transform="translate(919.00 696.70) scale(1 1.000)" font-size="22.00px" x="0.00">5</text>
<text transform="translate(1026.30 696.70) scale(1 1.000)" font-size="22.00px" x="-12.23 0.00">20</text>
<text transform="translate(1133.30 696.70) scale(1 1.000)" font-size="22.00px" x="-12.23 0.00">25</text>
<text transform="translate(1239.00 696.70) scale(1 1.000)" font-size="22.00px" x="-12.23 0.00">30</text>
<text transform="translate(1003.20 327.50) scale(1 1.025)" font-size="21.60px" text-anchor="middle">LOPC</text>
<text transform="translate(996.00 486.00) scale(1 1.020)" font-size="22.40px" text-anchor="middle">Polymer crystal</text>
<text transform="translate(930.00 142.30) scale(1 1.000)" font-size="22.20px" text-anchor="start">Original C<tspan font-size="15px" dy="7.6">60</tspan></text>
<text transform="translate(644.30 730.50) scale(1 1.000)" font-size="22.00px" text-anchor="start"><tspan x="-19.2" font-style="italic">r</tspan><tspan x="-5.7">(</tspan><tspan x="0">Å</tspan><tspan x="12.7">)</tspan></text>
<text transform="translate(25.60 349.00) rotate(-90) scale(1 1.000)" font-size="22.60px" text-anchor="middle">Pair distribution function <tspan font-style="italic">G</tspan><tspan dx="-1.2">(</tspan><tspan font-style="italic" dx="-1.2">r</tspan><tspan dx="-1.1">)</tspan></text>
</g>
</svg></body></html>
